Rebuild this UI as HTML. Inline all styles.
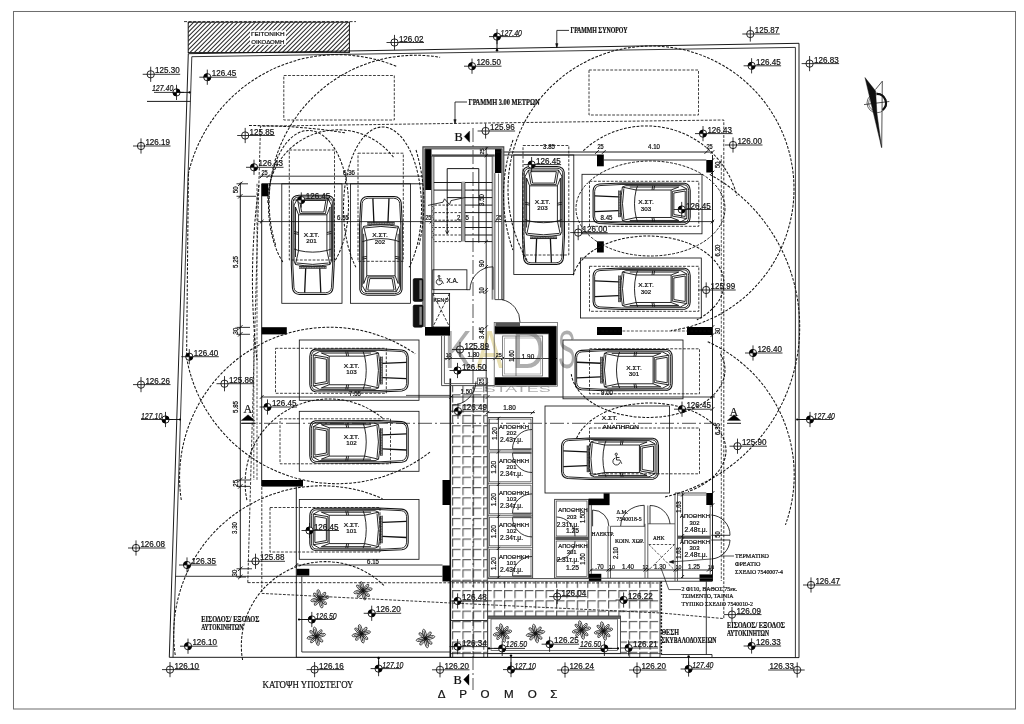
<!DOCTYPE html>
<html lang="el"><head><meta charset="utf-8"><title>ΚΑΤΟΨΗ ΥΠΟΣΤΕΓΟΥ</title>
<style>
html,body{margin:0;padding:0;background:#fff;}
svg{display:block;will-change:transform;}
text{font-family:"Liberation Sans",sans-serif;}
text.r{font-family:"Liberation Serif",serif;}
</style></head><body>
<svg width="1024" height="724" viewBox="0 0 1024 724">
<rect width="1024" height="724" fill="#fff"/>
<rect x="13.5" y="11.5" width="1002" height="697.5" fill="none" stroke="#6e6e6e" stroke-width="1.02"/>
<g opacity="0.8">
<text class="s" x="444.5" y="368.4" font-size="53" fill="#9a9a9a" textLength="27.5" lengthAdjust="spacingAndGlyphs">K</text>
<text class="s" x="476" y="368.4" font-size="53" fill="#d8c878" textLength="27" lengthAdjust="spacingAndGlyphs" opacity="0.7">A</text>
<text class="s" x="512" y="368.4" font-size="53" fill="#9a9a9a" textLength="33" lengthAdjust="spacingAndGlyphs">D</text>
<text class="s" x="548.6" y="368.4" font-size="53" fill="#9a9a9a" textLength="5.5" lengthAdjust="spacingAndGlyphs">I</text>
<text class="s" x="558" y="368.4" font-size="53" fill="#9a9a9a" textLength="17.5" lengthAdjust="spacingAndGlyphs">S</text>
<text class="s" x="471.8" y="392.2" font-size="8.6" fill="#9a9a9a" textLength="79" lengthAdjust="spacingAndGlyphs">ESTATES</text>
</g>
<defs><pattern id="hat" width="2" height="2" patternUnits="userSpaceOnUse" patternTransform="rotate(-45)"><line x1="0" y1="1" x2="2" y2="1" stroke="#1a1a1a" stroke-width="0.82"/></pattern><pattern id="tile" x="452" y="414.9" width="10.4" height="10.3" patternUnits="userSpaceOnUse"><path d="M0.6,8.2 V0.6 H8.6" stroke="#5a5a5a" stroke-width="1.15" fill="none"/></pattern></defs>
<clipPath id="hc"><rect x="188.2" y="22.2" width="161.2" height="30.4"/></clipPath>
<path clip-path="url(#hc)" d="M159,52.6 L189.4,22.2 M163.4,52.6 L193.8,22.2 M167.8,52.6 L198.2,22.2 M172.2,52.6 L202.6,22.2 M176.6,52.6 L207,22.2 M181,52.6 L211.4,22.2 M185.4,52.6 L215.8,22.2 M189.8,52.6 L220.2,22.2 M194.2,52.6 L224.6,22.2 M198.6,52.6 L229,22.2 M203,52.6 L233.4,22.2 M207.4,52.6 L237.8,22.2 M211.8,52.6 L242.2,22.2 M216.2,52.6 L246.6,22.2 M220.6,52.6 L251,22.2 M225,52.6 L255.4,22.2 M229.4,52.6 L259.8,22.2 M233.8,52.6 L264.2,22.2 M238.2,52.6 L268.6,22.2 M242.6,52.6 L273,22.2 M247,52.6 L277.4,22.2 M251.4,52.6 L281.8,22.2 M255.8,52.6 L286.2,22.2 M260.2,52.6 L290.6,22.2 M264.6,52.6 L295,22.2 M269,52.6 L299.4,22.2 M273.4,52.6 L303.8,22.2 M277.8,52.6 L308.2,22.2 M282.2,52.6 L312.6,22.2 M286.6,52.6 L317,22.2 M291,52.6 L321.4,22.2 M295.4,52.6 L325.8,22.2 M299.8,52.6 L330.2,22.2 M304.2,52.6 L334.6,22.2 M308.6,52.6 L339,22.2 M313,52.6 L343.4,22.2 M317.4,52.6 L347.8,22.2 M321.8,52.6 L352.2,22.2 M326.2,52.6 L356.6,22.2 M330.6,52.6 L361,22.2 M335,52.6 L365.4,22.2 M339.4,52.6 L369.8,22.2 M343.8,52.6 L374.2,22.2 M348.2,52.6 L378.6,22.2" stroke="#2a2a2a" stroke-width="1.05" fill="none"/>
<rect x="188.2" y="22.2" width="161.2" height="30.4" fill="none" stroke="#111" stroke-width="0.96"/>
<line x1="184" y1="21.6" x2="356" y2="21.6" stroke="#111" stroke-width="0.84" stroke-dasharray="3 1.6"/>
<rect x="250" y="30.4" width="36" height="14.4" fill="#fff"/>
<text class="s" x="267.8" y="36.1" font-size="5.9" fill="#111" stroke="#111" stroke-width="0.22" text-anchor="middle" textLength="33.4" lengthAdjust="spacingAndGlyphs">ΓΕΙΤΟΝΙΚΗ</text>
<text class="s" x="267.8" y="43.5" font-size="5.9" fill="#111" stroke="#111" stroke-width="0.22" text-anchor="middle" textLength="33" lengthAdjust="spacingAndGlyphs">ΟΙΚΟΔΟΜΗ</text>
<polygon points="188.3,53.7 799,43.3 799,657.6 169.3,657.3" fill="none" stroke="#111" stroke-width="0.96"/>
<polyline points="191.8,56.7 795.4,47.4 795.4,657.4" fill="none" stroke="#111" stroke-width="0.84"/>
<line x1="191.8" y1="56.7" x2="173" y2="657.3" stroke="#111" stroke-width="0.84"/>
<circle cx="876.8" cy="103" r="9.8" fill="none" stroke="#333" stroke-width="0.72"/>
<path d="M876.8,94.8 A8.2,8.2 0 0 0 876.8,111.2" fill="none" stroke="#444" stroke-width="0.72"/>
<path d="M876.6,93.9 A9.1,9.1 0 0 1 882.6,110" fill="none" stroke="#111" stroke-width="2.1"/>
<path d="M865,77.6 L875.6,91 L876.9,113 L881.6,147.6 Z" fill="#111" stroke="#111" stroke-width="0.48"/>
<path d="M875.4,89.6 L882.3,81.2 L881.7,147.5" fill="none" stroke="#111" stroke-width="0.72"/>
<line x1="864" y1="104.6" x2="889.3" y2="101.5" stroke="#111" stroke-width="0.72"/>
<rect x="451.3" y="385.6" width="35.9" height="271.4" fill="url(#tile)"/>
<rect x="487.6" y="581" width="136.4" height="35.5" fill="url(#tile)"/>
<rect x="620.5" y="581" width="39.5" height="76" fill="url(#tile)"/>
<line x1="450.3" y1="378.4" x2="450.3" y2="657.3" stroke="#111" stroke-width="1.6"/>
<line x1="487.6" y1="581" x2="487.6" y2="657" stroke="#111" stroke-width="0.84"/>
<line x1="451" y1="620.5" x2="487.6" y2="620.5" stroke="#111" stroke-width="0.84"/>
<line x1="660" y1="581" x2="660" y2="657" stroke="#111" stroke-width="0.84"/>
<rect x="281.8" y="183.8" width="60.2" height="119.5" fill="none" stroke="#111" stroke-width="0.84"/>
<rect x="350.5" y="183.8" width="60" height="119.5" fill="none" stroke="#111" stroke-width="0.84"/>
<rect x="513.8" y="155" width="60" height="119.5" fill="none" stroke="#111" stroke-width="0.84"/>
<rect x="582" y="174.3" width="120" height="59.5" fill="none" stroke="#111" stroke-width="0.84"/>
<rect x="580.5" y="258" width="120.8" height="60" fill="none" stroke="#111" stroke-width="0.84"/>
<rect x="563" y="340" width="120" height="58.8" fill="none" stroke="#111" stroke-width="0.84"/>
<rect x="299.3" y="340" width="119.7" height="60.3" fill="none" stroke="#111" stroke-width="0.84"/>
<rect x="299.3" y="411.3" width="119.7" height="60" fill="none" stroke="#111" stroke-width="0.84"/>
<rect x="299.3" y="499.5" width="119.7" height="59.8" fill="none" stroke="#111" stroke-width="0.84"/>
<rect x="545" y="406" width="124.5" height="87" fill="none" stroke="#111" stroke-width="0.84"/>
<rect x="289.3" y="150" width="45.2" height="110" fill="none" stroke="#333" stroke-width="0.94" stroke-dasharray="2.8 1.45"/>
<rect x="358" y="153.2" width="45.3" height="108.1" fill="none" stroke="#333" stroke-width="0.94" stroke-dasharray="2.8 1.45"/>
<rect x="523" y="145.5" width="45.8" height="109.5" fill="none" stroke="#333" stroke-width="0.94" stroke-dasharray="2.8 1.45"/>
<rect x="589.5" y="181.3" width="109.3" height="45" fill="none" stroke="#333" stroke-width="0.94" stroke-dasharray="2.8 1.45"/>
<rect x="589.5" y="266.3" width="109.3" height="45" fill="none" stroke="#333" stroke-width="0.94" stroke-dasharray="2.8 1.45"/>
<rect x="589.5" y="348.8" width="110" height="45" fill="none" stroke="#333" stroke-width="0.94" stroke-dasharray="2.8 1.45"/>
<rect x="275.5" y="348.3" width="110.8" height="45" fill="none" stroke="#333" stroke-width="0.94" stroke-dasharray="2.8 1.45"/>
<rect x="280" y="418.8" width="110.5" height="45" fill="none" stroke="#333" stroke-width="0.94" stroke-dasharray="2.8 1.45"/>
<rect x="270" y="507.5" width="110" height="44.5" fill="none" stroke="#333" stroke-width="0.94" stroke-dasharray="2.8 1.45"/>
<rect x="589.5" y="428" width="110" height="45.8" fill="none" stroke="#333" stroke-width="0.94" stroke-dasharray="2.8 1.45"/>
<rect x="283.8" y="75.5" width="110.5" height="44.5" fill="none" stroke="#333" stroke-width="0.94" stroke-dasharray="2.8 1.45"/>
<rect x="589" y="70" width="109.5" height="45" fill="none" stroke="#333" stroke-width="0.94" stroke-dasharray="2.8 1.45"/>
<g transform="matrix(0 1 1.02 0 290.8 195)" fill="none" stroke="#111" stroke-width="0.9" stroke-linejoin="round">
<path d="M6,0.8 L70,0.5 L93,1.6 Q99,2.2 99.4,8.5 L99.4,34.5 Q99,40.8 93,41.4 L70,42.5 L6,42.2 Q0.6,41.5 0.3,35 L0.3,8 Q0.6,1.5 6,0.8 Z" vector-effect="non-scaling-stroke" stroke-width="1.05"/>
<path d="M6.6,2.3 L70,2 L92.4,3.1 Q97.4,3.6 97.8,9 L97.8,34 Q97.4,39.4 92.4,39.9 L70,41 L6.6,40.7 Q2.2,40.1 1.9,35 L1.9,8 Q2.2,2.9 6.6,2.3 Z" vector-effect="non-scaling-stroke"/>
<path d="M3.8,6.5 L18.6,9 L18.6,34 L3.8,36.5 Z" vector-effect="non-scaling-stroke"/>
<path d="M5.4,8.6 L17,10.6 L17,32.4 L5.4,34.4 Z" vector-effect="non-scaling-stroke"/>
<path d="M19.8,7.6 L55.5,7.6 Q58.8,21.5 55.5,35.4 L19.8,35.4 Z" vector-effect="non-scaling-stroke"/>
<path d="M3.8,6.5 L10,3.2 L66,3.2 L69.5,4.6 L55.5,7.6 M19.8,7.6 L12,4.6 M12,4.6 L62,4.6 M36.5,3.2 L37.5,7.6 M38.5,3.2 L39.3,7.6 M54,3.2 L55.5,7.6" vector-effect="non-scaling-stroke"/>
<path d="M3.8,36.5 L10,39.8 L66,39.8 L69.5,38.4 L55.5,35.4 M19.8,35.4 L12,38.4 M12,38.4 L62,38.4 M36.5,39.8 L37.5,35.4 M38.5,39.8 L39.3,35.4 M54,39.8 L55.5,35.4" vector-effect="non-scaling-stroke"/>
<path d="M69.5,4.6 Q72.6,21.5 69.5,38.4 M68,6 Q70.8,21.5 68,37" vector-effect="non-scaling-stroke"/>
<path d="M71.6,8 L71.6,35 M73.2,8 L73.2,35" vector-effect="non-scaling-stroke"/>
<path d="M73.4,14.6 L97.6,13.6 M73.4,28.4 L97.6,29.4" vector-effect="non-scaling-stroke" stroke-width="1.3"/>
<path d="M71.6,9 L73.2,9 M71.6,10.6 L73.2,10.6 M71.6,12.2 L73.2,12.2 M71.6,13.8 L73.2,13.8 M71.6,15.4 L73.2,15.4 M71.6,17 L73.2,17 M71.6,18.6 L73.2,18.6 M71.6,20.2 L73.2,20.2 M71.6,21.8 L73.2,21.8 M71.6,23.4 L73.2,23.4 M71.6,25 L73.2,25 M71.6,26.6 L73.2,26.6 M71.6,28.2 L73.2,28.2 M71.6,29.8 L73.2,29.8 M71.6,31.4 L73.2,31.4 M71.6,33 L73.2,33 M71.6,34.6 L73.2,34.6" vector-effect="non-scaling-stroke" stroke-width="0.5"/>
</g>
<g transform="matrix(0 -0.9950 1.02 0 359 295.5)" fill="none" stroke="#111" stroke-width="0.9" stroke-linejoin="round">
<path d="M6,0.8 L70,0.5 L93,1.6 Q99,2.2 99.4,8.5 L99.4,34.5 Q99,40.8 93,41.4 L70,42.5 L6,42.2 Q0.6,41.5 0.3,35 L0.3,8 Q0.6,1.5 6,0.8 Z" vector-effect="non-scaling-stroke" stroke-width="1.05"/>
<path d="M6.6,2.3 L70,2 L92.4,3.1 Q97.4,3.6 97.8,9 L97.8,34 Q97.4,39.4 92.4,39.9 L70,41 L6.6,40.7 Q2.2,40.1 1.9,35 L1.9,8 Q2.2,2.9 6.6,2.3 Z" vector-effect="non-scaling-stroke"/>
<path d="M3.8,6.5 L18.6,9 L18.6,34 L3.8,36.5 Z" vector-effect="non-scaling-stroke"/>
<path d="M5.4,8.6 L17,10.6 L17,32.4 L5.4,34.4 Z" vector-effect="non-scaling-stroke"/>
<path d="M19.8,7.6 L55.5,7.6 Q58.8,21.5 55.5,35.4 L19.8,35.4 Z" vector-effect="non-scaling-stroke"/>
<path d="M3.8,6.5 L10,3.2 L66,3.2 L69.5,4.6 L55.5,7.6 M19.8,7.6 L12,4.6 M12,4.6 L62,4.6 M36.5,3.2 L37.5,7.6 M38.5,3.2 L39.3,7.6 M54,3.2 L55.5,7.6" vector-effect="non-scaling-stroke"/>
<path d="M3.8,36.5 L10,39.8 L66,39.8 L69.5,38.4 L55.5,35.4 M19.8,35.4 L12,38.4 M12,38.4 L62,38.4 M36.5,39.8 L37.5,35.4 M38.5,39.8 L39.3,35.4 M54,39.8 L55.5,35.4" vector-effect="non-scaling-stroke"/>
<path d="M69.5,4.6 Q72.6,21.5 69.5,38.4 M68,6 Q70.8,21.5 68,37" vector-effect="non-scaling-stroke"/>
<path d="M71.6,8 L71.6,35 M73.2,8 L73.2,35" vector-effect="non-scaling-stroke"/>
<path d="M73.4,14.6 L97.6,13.6 M73.4,28.4 L97.6,29.4" vector-effect="non-scaling-stroke" stroke-width="1.3"/>
<path d="M71.6,9 L73.2,9 M71.6,10.6 L73.2,10.6 M71.6,12.2 L73.2,12.2 M71.6,13.8 L73.2,13.8 M71.6,15.4 L73.2,15.4 M71.6,17 L73.2,17 M71.6,18.6 L73.2,18.6 M71.6,20.2 L73.2,20.2 M71.6,21.8 L73.2,21.8 M71.6,23.4 L73.2,23.4 M71.6,25 L73.2,25 M71.6,26.6 L73.2,26.6 M71.6,28.2 L73.2,28.2 M71.6,29.8 L73.2,29.8 M71.6,31.4 L73.2,31.4 M71.6,33 L73.2,33 M71.6,34.6 L73.2,34.6" vector-effect="non-scaling-stroke" stroke-width="0.5"/>
</g>
<g transform="matrix(0 0.9870 1 0 522 166.3)" fill="none" stroke="#111" stroke-width="0.9" stroke-linejoin="round">
<path d="M6,0.8 L70,0.5 L93,1.6 Q99,2.2 99.4,8.5 L99.4,34.5 Q99,40.8 93,41.4 L70,42.5 L6,42.2 Q0.6,41.5 0.3,35 L0.3,8 Q0.6,1.5 6,0.8 Z" vector-effect="non-scaling-stroke" stroke-width="1.05"/>
<path d="M6.6,2.3 L70,2 L92.4,3.1 Q97.4,3.6 97.8,9 L97.8,34 Q97.4,39.4 92.4,39.9 L70,41 L6.6,40.7 Q2.2,40.1 1.9,35 L1.9,8 Q2.2,2.9 6.6,2.3 Z" vector-effect="non-scaling-stroke"/>
<path d="M3.8,6.5 L18.6,9 L18.6,34 L3.8,36.5 Z" vector-effect="non-scaling-stroke"/>
<path d="M5.4,8.6 L17,10.6 L17,32.4 L5.4,34.4 Z" vector-effect="non-scaling-stroke"/>
<path d="M19.8,7.6 L55.5,7.6 Q58.8,21.5 55.5,35.4 L19.8,35.4 Z" vector-effect="non-scaling-stroke"/>
<path d="M3.8,6.5 L10,3.2 L66,3.2 L69.5,4.6 L55.5,7.6 M19.8,7.6 L12,4.6 M12,4.6 L62,4.6 M36.5,3.2 L37.5,7.6 M38.5,3.2 L39.3,7.6 M54,3.2 L55.5,7.6" vector-effect="non-scaling-stroke"/>
<path d="M3.8,36.5 L10,39.8 L66,39.8 L69.5,38.4 L55.5,35.4 M19.8,35.4 L12,38.4 M12,38.4 L62,38.4 M36.5,39.8 L37.5,35.4 M38.5,39.8 L39.3,35.4 M54,39.8 L55.5,35.4" vector-effect="non-scaling-stroke"/>
<path d="M69.5,4.6 Q72.6,21.5 69.5,38.4 M68,6 Q70.8,21.5 68,37" vector-effect="non-scaling-stroke"/>
<path d="M71.6,8 L71.6,35 M73.2,8 L73.2,35" vector-effect="non-scaling-stroke"/>
<path d="M73.4,14.6 L97.6,13.6 M73.4,28.4 L97.6,29.4" vector-effect="non-scaling-stroke" stroke-width="1.3"/>
<path d="M71.6,9 L73.2,9 M71.6,10.6 L73.2,10.6 M71.6,12.2 L73.2,12.2 M71.6,13.8 L73.2,13.8 M71.6,15.4 L73.2,15.4 M71.6,17 L73.2,17 M71.6,18.6 L73.2,18.6 M71.6,20.2 L73.2,20.2 M71.6,21.8 L73.2,21.8 M71.6,23.4 L73.2,23.4 M71.6,25 L73.2,25 M71.6,26.6 L73.2,26.6 M71.6,28.2 L73.2,28.2 M71.6,29.8 L73.2,29.8 M71.6,31.4 L73.2,31.4 M71.6,33 L73.2,33 M71.6,34.6 L73.2,34.6" vector-effect="non-scaling-stroke" stroke-width="0.5"/>
</g>
<g transform="matrix(-0.9800 0 0 0.9884 690.5 182.5)" fill="none" stroke="#111" stroke-width="0.9" stroke-linejoin="round">
<path d="M6,0.8 L70,0.5 L93,1.6 Q99,2.2 99.4,8.5 L99.4,34.5 Q99,40.8 93,41.4 L70,42.5 L6,42.2 Q0.6,41.5 0.3,35 L0.3,8 Q0.6,1.5 6,0.8 Z" vector-effect="non-scaling-stroke" stroke-width="1.05"/>
<path d="M6.6,2.3 L70,2 L92.4,3.1 Q97.4,3.6 97.8,9 L97.8,34 Q97.4,39.4 92.4,39.9 L70,41 L6.6,40.7 Q2.2,40.1 1.9,35 L1.9,8 Q2.2,2.9 6.6,2.3 Z" vector-effect="non-scaling-stroke"/>
<path d="M3.8,6.5 L18.6,9 L18.6,34 L3.8,36.5 Z" vector-effect="non-scaling-stroke"/>
<path d="M5.4,8.6 L17,10.6 L17,32.4 L5.4,34.4 Z" vector-effect="non-scaling-stroke"/>
<path d="M19.8,7.6 L55.5,7.6 Q58.8,21.5 55.5,35.4 L19.8,35.4 Z" vector-effect="non-scaling-stroke"/>
<path d="M3.8,6.5 L10,3.2 L66,3.2 L69.5,4.6 L55.5,7.6 M19.8,7.6 L12,4.6 M12,4.6 L62,4.6 M36.5,3.2 L37.5,7.6 M38.5,3.2 L39.3,7.6 M54,3.2 L55.5,7.6" vector-effect="non-scaling-stroke"/>
<path d="M3.8,36.5 L10,39.8 L66,39.8 L69.5,38.4 L55.5,35.4 M19.8,35.4 L12,38.4 M12,38.4 L62,38.4 M36.5,39.8 L37.5,35.4 M38.5,39.8 L39.3,35.4 M54,39.8 L55.5,35.4" vector-effect="non-scaling-stroke"/>
<path d="M69.5,4.6 Q72.6,21.5 69.5,38.4 M68,6 Q70.8,21.5 68,37" vector-effect="non-scaling-stroke"/>
<path d="M71.6,8 L71.6,35 M73.2,8 L73.2,35" vector-effect="non-scaling-stroke"/>
<path d="M73.4,14.6 L97.6,13.6 M73.4,28.4 L97.6,29.4" vector-effect="non-scaling-stroke" stroke-width="1.3"/>
<path d="M71.6,9 L73.2,9 M71.6,10.6 L73.2,10.6 M71.6,12.2 L73.2,12.2 M71.6,13.8 L73.2,13.8 M71.6,15.4 L73.2,15.4 M71.6,17 L73.2,17 M71.6,18.6 L73.2,18.6 M71.6,20.2 L73.2,20.2 M71.6,21.8 L73.2,21.8 M71.6,23.4 L73.2,23.4 M71.6,25 L73.2,25 M71.6,26.6 L73.2,26.6 M71.6,28.2 L73.2,28.2 M71.6,29.8 L73.2,29.8 M71.6,31.4 L73.2,31.4 M71.6,33 L73.2,33 M71.6,34.6 L73.2,34.6" vector-effect="non-scaling-stroke" stroke-width="0.5"/>
</g>
<g transform="matrix(-0.9800 0 0 0.9884 690.5 267.5)" fill="none" stroke="#111" stroke-width="0.9" stroke-linejoin="round">
<path d="M6,0.8 L70,0.5 L93,1.6 Q99,2.2 99.4,8.5 L99.4,34.5 Q99,40.8 93,41.4 L70,42.5 L6,42.2 Q0.6,41.5 0.3,35 L0.3,8 Q0.6,1.5 6,0.8 Z" vector-effect="non-scaling-stroke" stroke-width="1.05"/>
<path d="M6.6,2.3 L70,2 L92.4,3.1 Q97.4,3.6 97.8,9 L97.8,34 Q97.4,39.4 92.4,39.9 L70,41 L6.6,40.7 Q2.2,40.1 1.9,35 L1.9,8 Q2.2,2.9 6.6,2.3 Z" vector-effect="non-scaling-stroke"/>
<path d="M3.8,6.5 L18.6,9 L18.6,34 L3.8,36.5 Z" vector-effect="non-scaling-stroke"/>
<path d="M5.4,8.6 L17,10.6 L17,32.4 L5.4,34.4 Z" vector-effect="non-scaling-stroke"/>
<path d="M19.8,7.6 L55.5,7.6 Q58.8,21.5 55.5,35.4 L19.8,35.4 Z" vector-effect="non-scaling-stroke"/>
<path d="M3.8,6.5 L10,3.2 L66,3.2 L69.5,4.6 L55.5,7.6 M19.8,7.6 L12,4.6 M12,4.6 L62,4.6 M36.5,3.2 L37.5,7.6 M38.5,3.2 L39.3,7.6 M54,3.2 L55.5,7.6" vector-effect="non-scaling-stroke"/>
<path d="M3.8,36.5 L10,39.8 L66,39.8 L69.5,38.4 L55.5,35.4 M19.8,35.4 L12,38.4 M12,38.4 L62,38.4 M36.5,39.8 L37.5,35.4 M38.5,39.8 L39.3,35.4 M54,39.8 L55.5,35.4" vector-effect="non-scaling-stroke"/>
<path d="M69.5,4.6 Q72.6,21.5 69.5,38.4 M68,6 Q70.8,21.5 68,37" vector-effect="non-scaling-stroke"/>
<path d="M71.6,8 L71.6,35 M73.2,8 L73.2,35" vector-effect="non-scaling-stroke"/>
<path d="M73.4,14.6 L97.6,13.6 M73.4,28.4 L97.6,29.4" vector-effect="non-scaling-stroke" stroke-width="1.3"/>
<path d="M71.6,9 L73.2,9 M71.6,10.6 L73.2,10.6 M71.6,12.2 L73.2,12.2 M71.6,13.8 L73.2,13.8 M71.6,15.4 L73.2,15.4 M71.6,17 L73.2,17 M71.6,18.6 L73.2,18.6 M71.6,20.2 L73.2,20.2 M71.6,21.8 L73.2,21.8 M71.6,23.4 L73.2,23.4 M71.6,25 L73.2,25 M71.6,26.6 L73.2,26.6 M71.6,28.2 L73.2,28.2 M71.6,29.8 L73.2,29.8 M71.6,31.4 L73.2,31.4 M71.6,33 L73.2,33 M71.6,34.6 L73.2,34.6" vector-effect="non-scaling-stroke" stroke-width="0.5"/>
</g>
<g transform="matrix(-0.9800 0 0 0.9884 672.5 348.8)" fill="none" stroke="#111" stroke-width="0.9" stroke-linejoin="round">
<path d="M6,0.8 L70,0.5 L93,1.6 Q99,2.2 99.4,8.5 L99.4,34.5 Q99,40.8 93,41.4 L70,42.5 L6,42.2 Q0.6,41.5 0.3,35 L0.3,8 Q0.6,1.5 6,0.8 Z" vector-effect="non-scaling-stroke" stroke-width="1.05"/>
<path d="M6.6,2.3 L70,2 L92.4,3.1 Q97.4,3.6 97.8,9 L97.8,34 Q97.4,39.4 92.4,39.9 L70,41 L6.6,40.7 Q2.2,40.1 1.9,35 L1.9,8 Q2.2,2.9 6.6,2.3 Z" vector-effect="non-scaling-stroke"/>
<path d="M3.8,6.5 L18.6,9 L18.6,34 L3.8,36.5 Z" vector-effect="non-scaling-stroke"/>
<path d="M5.4,8.6 L17,10.6 L17,32.4 L5.4,34.4 Z" vector-effect="non-scaling-stroke"/>
<path d="M19.8,7.6 L55.5,7.6 Q58.8,21.5 55.5,35.4 L19.8,35.4 Z" vector-effect="non-scaling-stroke"/>
<path d="M3.8,6.5 L10,3.2 L66,3.2 L69.5,4.6 L55.5,7.6 M19.8,7.6 L12,4.6 M12,4.6 L62,4.6 M36.5,3.2 L37.5,7.6 M38.5,3.2 L39.3,7.6 M54,3.2 L55.5,7.6" vector-effect="non-scaling-stroke"/>
<path d="M3.8,36.5 L10,39.8 L66,39.8 L69.5,38.4 L55.5,35.4 M19.8,35.4 L12,38.4 M12,38.4 L62,38.4 M36.5,39.8 L37.5,35.4 M38.5,39.8 L39.3,35.4 M54,39.8 L55.5,35.4" vector-effect="non-scaling-stroke"/>
<path d="M69.5,4.6 Q72.6,21.5 69.5,38.4 M68,6 Q70.8,21.5 68,37" vector-effect="non-scaling-stroke"/>
<path d="M71.6,8 L71.6,35 M73.2,8 L73.2,35" vector-effect="non-scaling-stroke"/>
<path d="M73.4,14.6 L97.6,13.6 M73.4,28.4 L97.6,29.4" vector-effect="non-scaling-stroke" stroke-width="1.3"/>
<path d="M71.6,9 L73.2,9 M71.6,10.6 L73.2,10.6 M71.6,12.2 L73.2,12.2 M71.6,13.8 L73.2,13.8 M71.6,15.4 L73.2,15.4 M71.6,17 L73.2,17 M71.6,18.6 L73.2,18.6 M71.6,20.2 L73.2,20.2 M71.6,21.8 L73.2,21.8 M71.6,23.4 L73.2,23.4 M71.6,25 L73.2,25 M71.6,26.6 L73.2,26.6 M71.6,28.2 L73.2,28.2 M71.6,29.8 L73.2,29.8 M71.6,31.4 L73.2,31.4 M71.6,33 L73.2,33 M71.6,34.6 L73.2,34.6" vector-effect="non-scaling-stroke" stroke-width="0.5"/>
</g>
<g transform="matrix(0.9930 0 0 1.03 309.5 348.3)" fill="none" stroke="#111" stroke-width="0.9" stroke-linejoin="round">
<path d="M6,0.8 L70,0.5 L93,1.6 Q99,2.2 99.4,8.5 L99.4,34.5 Q99,40.8 93,41.4 L70,42.5 L6,42.2 Q0.6,41.5 0.3,35 L0.3,8 Q0.6,1.5 6,0.8 Z" vector-effect="non-scaling-stroke" stroke-width="1.05"/>
<path d="M6.6,2.3 L70,2 L92.4,3.1 Q97.4,3.6 97.8,9 L97.8,34 Q97.4,39.4 92.4,39.9 L70,41 L6.6,40.7 Q2.2,40.1 1.9,35 L1.9,8 Q2.2,2.9 6.6,2.3 Z" vector-effect="non-scaling-stroke"/>
<path d="M3.8,6.5 L18.6,9 L18.6,34 L3.8,36.5 Z" vector-effect="non-scaling-stroke"/>
<path d="M5.4,8.6 L17,10.6 L17,32.4 L5.4,34.4 Z" vector-effect="non-scaling-stroke"/>
<path d="M19.8,7.6 L55.5,7.6 Q58.8,21.5 55.5,35.4 L19.8,35.4 Z" vector-effect="non-scaling-stroke"/>
<path d="M3.8,6.5 L10,3.2 L66,3.2 L69.5,4.6 L55.5,7.6 M19.8,7.6 L12,4.6 M12,4.6 L62,4.6 M36.5,3.2 L37.5,7.6 M38.5,3.2 L39.3,7.6 M54,3.2 L55.5,7.6" vector-effect="non-scaling-stroke"/>
<path d="M3.8,36.5 L10,39.8 L66,39.8 L69.5,38.4 L55.5,35.4 M19.8,35.4 L12,38.4 M12,38.4 L62,38.4 M36.5,39.8 L37.5,35.4 M38.5,39.8 L39.3,35.4 M54,39.8 L55.5,35.4" vector-effect="non-scaling-stroke"/>
<path d="M69.5,4.6 Q72.6,21.5 69.5,38.4 M68,6 Q70.8,21.5 68,37" vector-effect="non-scaling-stroke"/>
<path d="M71.6,8 L71.6,35 M73.2,8 L73.2,35" vector-effect="non-scaling-stroke"/>
<path d="M73.4,14.6 L97.6,13.6 M73.4,28.4 L97.6,29.4" vector-effect="non-scaling-stroke" stroke-width="1.3"/>
<path d="M71.6,9 L73.2,9 M71.6,10.6 L73.2,10.6 M71.6,12.2 L73.2,12.2 M71.6,13.8 L73.2,13.8 M71.6,15.4 L73.2,15.4 M71.6,17 L73.2,17 M71.6,18.6 L73.2,18.6 M71.6,20.2 L73.2,20.2 M71.6,21.8 L73.2,21.8 M71.6,23.4 L73.2,23.4 M71.6,25 L73.2,25 M71.6,26.6 L73.2,26.6 M71.6,28.2 L73.2,28.2 M71.6,29.8 L73.2,29.8 M71.6,31.4 L73.2,31.4 M71.6,33 L73.2,33 M71.6,34.6 L73.2,34.6" vector-effect="non-scaling-stroke" stroke-width="0.5"/>
</g>
<g transform="matrix(0.9930 0 0 1.02 309.5 420)" fill="none" stroke="#111" stroke-width="0.9" stroke-linejoin="round">
<path d="M6,0.8 L70,0.5 L93,1.6 Q99,2.2 99.4,8.5 L99.4,34.5 Q99,40.8 93,41.4 L70,42.5 L6,42.2 Q0.6,41.5 0.3,35 L0.3,8 Q0.6,1.5 6,0.8 Z" vector-effect="non-scaling-stroke" stroke-width="1.05"/>
<path d="M6.6,2.3 L70,2 L92.4,3.1 Q97.4,3.6 97.8,9 L97.8,34 Q97.4,39.4 92.4,39.9 L70,41 L6.6,40.7 Q2.2,40.1 1.9,35 L1.9,8 Q2.2,2.9 6.6,2.3 Z" vector-effect="non-scaling-stroke"/>
<path d="M3.8,6.5 L18.6,9 L18.6,34 L3.8,36.5 Z" vector-effect="non-scaling-stroke"/>
<path d="M5.4,8.6 L17,10.6 L17,32.4 L5.4,34.4 Z" vector-effect="non-scaling-stroke"/>
<path d="M19.8,7.6 L55.5,7.6 Q58.8,21.5 55.5,35.4 L19.8,35.4 Z" vector-effect="non-scaling-stroke"/>
<path d="M3.8,6.5 L10,3.2 L66,3.2 L69.5,4.6 L55.5,7.6 M19.8,7.6 L12,4.6 M12,4.6 L62,4.6 M36.5,3.2 L37.5,7.6 M38.5,3.2 L39.3,7.6 M54,3.2 L55.5,7.6" vector-effect="non-scaling-stroke"/>
<path d="M3.8,36.5 L10,39.8 L66,39.8 L69.5,38.4 L55.5,35.4 M19.8,35.4 L12,38.4 M12,38.4 L62,38.4 M36.5,39.8 L37.5,35.4 M38.5,39.8 L39.3,35.4 M54,39.8 L55.5,35.4" vector-effect="non-scaling-stroke"/>
<path d="M69.5,4.6 Q72.6,21.5 69.5,38.4 M68,6 Q70.8,21.5 68,37" vector-effect="non-scaling-stroke"/>
<path d="M71.6,8 L71.6,35 M73.2,8 L73.2,35" vector-effect="non-scaling-stroke"/>
<path d="M73.4,14.6 L97.6,13.6 M73.4,28.4 L97.6,29.4" vector-effect="non-scaling-stroke" stroke-width="1.3"/>
<path d="M71.6,9 L73.2,9 M71.6,10.6 L73.2,10.6 M71.6,12.2 L73.2,12.2 M71.6,13.8 L73.2,13.8 M71.6,15.4 L73.2,15.4 M71.6,17 L73.2,17 M71.6,18.6 L73.2,18.6 M71.6,20.2 L73.2,20.2 M71.6,21.8 L73.2,21.8 M71.6,23.4 L73.2,23.4 M71.6,25 L73.2,25 M71.6,26.6 L73.2,26.6 M71.6,28.2 L73.2,28.2 M71.6,29.8 L73.2,29.8 M71.6,31.4 L73.2,31.4 M71.6,33 L73.2,33 M71.6,34.6 L73.2,34.6" vector-effect="non-scaling-stroke" stroke-width="0.5"/>
</g>
<g transform="matrix(0.9930 0 0 1.02 309.5 507.5)" fill="none" stroke="#111" stroke-width="0.9" stroke-linejoin="round">
<path d="M6,0.8 L70,0.5 L93,1.6 Q99,2.2 99.4,8.5 L99.4,34.5 Q99,40.8 93,41.4 L70,42.5 L6,42.2 Q0.6,41.5 0.3,35 L0.3,8 Q0.6,1.5 6,0.8 Z" vector-effect="non-scaling-stroke" stroke-width="1.05"/>
<path d="M6.6,2.3 L70,2 L92.4,3.1 Q97.4,3.6 97.8,9 L97.8,34 Q97.4,39.4 92.4,39.9 L70,41 L6.6,40.7 Q2.2,40.1 1.9,35 L1.9,8 Q2.2,2.9 6.6,2.3 Z" vector-effect="non-scaling-stroke"/>
<path d="M3.8,6.5 L18.6,9 L18.6,34 L3.8,36.5 Z" vector-effect="non-scaling-stroke"/>
<path d="M5.4,8.6 L17,10.6 L17,32.4 L5.4,34.4 Z" vector-effect="non-scaling-stroke"/>
<path d="M19.8,7.6 L55.5,7.6 Q58.8,21.5 55.5,35.4 L19.8,35.4 Z" vector-effect="non-scaling-stroke"/>
<path d="M3.8,6.5 L10,3.2 L66,3.2 L69.5,4.6 L55.5,7.6 M19.8,7.6 L12,4.6 M12,4.6 L62,4.6 M36.5,3.2 L37.5,7.6 M38.5,3.2 L39.3,7.6 M54,3.2 L55.5,7.6" vector-effect="non-scaling-stroke"/>
<path d="M3.8,36.5 L10,39.8 L66,39.8 L69.5,38.4 L55.5,35.4 M19.8,35.4 L12,38.4 M12,38.4 L62,38.4 M36.5,39.8 L37.5,35.4 M38.5,39.8 L39.3,35.4 M54,39.8 L55.5,35.4" vector-effect="non-scaling-stroke"/>
<path d="M69.5,4.6 Q72.6,21.5 69.5,38.4 M68,6 Q70.8,21.5 68,37" vector-effect="non-scaling-stroke"/>
<path d="M71.6,8 L71.6,35 M73.2,8 L73.2,35" vector-effect="non-scaling-stroke"/>
<path d="M73.4,14.6 L97.6,13.6 M73.4,28.4 L97.6,29.4" vector-effect="non-scaling-stroke" stroke-width="1.3"/>
<path d="M71.6,9 L73.2,9 M71.6,10.6 L73.2,10.6 M71.6,12.2 L73.2,12.2 M71.6,13.8 L73.2,13.8 M71.6,15.4 L73.2,15.4 M71.6,17 L73.2,17 M71.6,18.6 L73.2,18.6 M71.6,20.2 L73.2,20.2 M71.6,21.8 L73.2,21.8 M71.6,23.4 L73.2,23.4 M71.6,25 L73.2,25 M71.6,26.6 L73.2,26.6 M71.6,28.2 L73.2,28.2 M71.6,29.8 L73.2,29.8 M71.6,31.4 L73.2,31.4 M71.6,33 L73.2,33 M71.6,34.6 L73.2,34.6" vector-effect="non-scaling-stroke" stroke-width="0.5"/>
</g>
<g transform="matrix(-0.9780 0 0 0.9884 658.8 437.5)" fill="none" stroke="#111" stroke-width="0.9" stroke-linejoin="round">
<path d="M6,0.8 L70,0.5 L93,1.6 Q99,2.2 99.4,8.5 L99.4,34.5 Q99,40.8 93,41.4 L70,42.5 L6,42.2 Q0.6,41.5 0.3,35 L0.3,8 Q0.6,1.5 6,0.8 Z" vector-effect="non-scaling-stroke" stroke-width="1.05"/>
<path d="M6.6,2.3 L70,2 L92.4,3.1 Q97.4,3.6 97.8,9 L97.8,34 Q97.4,39.4 92.4,39.9 L70,41 L6.6,40.7 Q2.2,40.1 1.9,35 L1.9,8 Q2.2,2.9 6.6,2.3 Z" vector-effect="non-scaling-stroke"/>
<path d="M3.8,6.5 L18.6,9 L18.6,34 L3.8,36.5 Z" vector-effect="non-scaling-stroke"/>
<path d="M5.4,8.6 L17,10.6 L17,32.4 L5.4,34.4 Z" vector-effect="non-scaling-stroke"/>
<path d="M19.8,7.6 L55.5,7.6 Q58.8,21.5 55.5,35.4 L19.8,35.4 Z" vector-effect="non-scaling-stroke"/>
<path d="M3.8,6.5 L10,3.2 L66,3.2 L69.5,4.6 L55.5,7.6 M19.8,7.6 L12,4.6 M12,4.6 L62,4.6 M36.5,3.2 L37.5,7.6 M38.5,3.2 L39.3,7.6 M54,3.2 L55.5,7.6" vector-effect="non-scaling-stroke"/>
<path d="M3.8,36.5 L10,39.8 L66,39.8 L69.5,38.4 L55.5,35.4 M19.8,35.4 L12,38.4 M12,38.4 L62,38.4 M36.5,39.8 L37.5,35.4 M38.5,39.8 L39.3,35.4 M54,39.8 L55.5,35.4" vector-effect="non-scaling-stroke"/>
<path d="M69.5,4.6 Q72.6,21.5 69.5,38.4 M68,6 Q70.8,21.5 68,37" vector-effect="non-scaling-stroke"/>
<path d="M71.6,8 L71.6,35 M73.2,8 L73.2,35" vector-effect="non-scaling-stroke"/>
<path d="M73.4,14.6 L97.6,13.6 M73.4,28.4 L97.6,29.4" vector-effect="non-scaling-stroke" stroke-width="1.3"/>
<path d="M71.6,9 L73.2,9 M71.6,10.6 L73.2,10.6 M71.6,12.2 L73.2,12.2 M71.6,13.8 L73.2,13.8 M71.6,15.4 L73.2,15.4 M71.6,17 L73.2,17 M71.6,18.6 L73.2,18.6 M71.6,20.2 L73.2,20.2 M71.6,21.8 L73.2,21.8 M71.6,23.4 L73.2,23.4 M71.6,25 L73.2,25 M71.6,26.6 L73.2,26.6 M71.6,28.2 L73.2,28.2 M71.6,29.8 L73.2,29.8 M71.6,31.4 L73.2,31.4 M71.6,33 L73.2,33 M71.6,34.6 L73.2,34.6" vector-effect="non-scaling-stroke" stroke-width="0.5"/>
</g>
<text class="s" x="311.5" y="236.5" font-size="6.2" fill="#111" stroke="#111" stroke-width="0.22" text-anchor="middle" textLength="15.5" lengthAdjust="spacingAndGlyphs">Χ.ΣΤ.</text>
<text class="s" x="311.5" y="243.4" font-size="6.2" fill="#111" stroke="#111" stroke-width="0.22" text-anchor="middle">201</text>
<text class="s" x="380" y="237" font-size="6.2" fill="#111" stroke="#111" stroke-width="0.22" text-anchor="middle" textLength="15.5" lengthAdjust="spacingAndGlyphs">Χ.ΣΤ.</text>
<text class="s" x="380" y="243.9" font-size="6.2" fill="#111" stroke="#111" stroke-width="0.22" text-anchor="middle">202</text>
<text class="s" x="542.5" y="203.5" font-size="6.2" fill="#111" stroke="#111" stroke-width="0.22" text-anchor="middle" textLength="15.5" lengthAdjust="spacingAndGlyphs">Χ.ΣΤ.</text>
<text class="s" x="542.5" y="210.4" font-size="6.2" fill="#111" stroke="#111" stroke-width="0.22" text-anchor="middle">203</text>
<text class="s" x="646" y="204" font-size="6.2" fill="#111" stroke="#111" stroke-width="0.22" text-anchor="middle" textLength="15.5" lengthAdjust="spacingAndGlyphs">Χ.ΣΤ.</text>
<text class="s" x="646" y="210.9" font-size="6.2" fill="#111" stroke="#111" stroke-width="0.22" text-anchor="middle">303</text>
<text class="s" x="646" y="287" font-size="6.2" fill="#111" stroke="#111" stroke-width="0.22" text-anchor="middle" textLength="15.5" lengthAdjust="spacingAndGlyphs">Χ.ΣΤ.</text>
<text class="s" x="646" y="293.9" font-size="6.2" fill="#111" stroke="#111" stroke-width="0.22" text-anchor="middle">302</text>
<text class="s" x="634" y="369.5" font-size="6.2" fill="#111" stroke="#111" stroke-width="0.22" text-anchor="middle" textLength="15.5" lengthAdjust="spacingAndGlyphs">Χ.ΣΤ.</text>
<text class="s" x="634" y="376.4" font-size="6.2" fill="#111" stroke="#111" stroke-width="0.22" text-anchor="middle">301</text>
<text class="s" x="351.5" y="367.5" font-size="6.2" fill="#111" stroke="#111" stroke-width="0.22" text-anchor="middle" textLength="15.5" lengthAdjust="spacingAndGlyphs">Χ.ΣΤ.</text>
<text class="s" x="351.5" y="374.4" font-size="6.2" fill="#111" stroke="#111" stroke-width="0.22" text-anchor="middle">103</text>
<text class="s" x="351.5" y="438.5" font-size="6.2" fill="#111" stroke="#111" stroke-width="0.22" text-anchor="middle" textLength="15.5" lengthAdjust="spacingAndGlyphs">Χ.ΣΤ.</text>
<text class="s" x="351.5" y="445.4" font-size="6.2" fill="#111" stroke="#111" stroke-width="0.22" text-anchor="middle">102</text>
<text class="s" x="351.5" y="526.5" font-size="6.2" fill="#111" stroke="#111" stroke-width="0.22" text-anchor="middle" textLength="15.5" lengthAdjust="spacingAndGlyphs">Χ.ΣΤ.</text>
<text class="s" x="351.5" y="533.4" font-size="6.2" fill="#111" stroke="#111" stroke-width="0.22" text-anchor="middle">101</text>
<text class="s" x="609.6" y="420.2" font-size="6.2" fill="#111" stroke="#111" stroke-width="0.22" text-anchor="middle" textLength="15.5" lengthAdjust="spacingAndGlyphs">Χ.ΣΤ.</text>
<text class="s" x="620.8" y="428.8" font-size="6.2" fill="#111" stroke="#111" stroke-width="0.22" text-anchor="middle" textLength="36.5" lengthAdjust="spacingAndGlyphs">ΑΝΑΠΗΡΩΝ</text>
<rect x="261.8" y="183.8" width="6.5" height="12.5" fill="#000"/>
<rect x="261.6" y="327.2" width="25.2" height="7.2" fill="#000"/>
<rect x="261.6" y="480" width="41.4" height="6.6" fill="#000"/>
<rect x="296.8" y="568.8" width="12.5" height="6.8" fill="#000"/>
<rect x="425" y="148.8" width="6.5" height="41.2" fill="#000"/>
<rect x="495" y="148.8" width="6.5" height="24.2" fill="#000"/>
<rect x="597" y="154.5" width="6.8" height="11.8" fill="#000"/>
<rect x="706.3" y="160" width="6.2" height="12.5" fill="#000"/>
<rect x="597" y="241.3" width="6.8" height="11.2" fill="#000"/>
<rect x="597" y="327" width="25" height="8" fill="#000"/>
<rect x="687" y="327" width="25" height="8" fill="#000"/>
<rect x="425" y="327" width="25" height="8.6" fill="#000"/>
<rect x="442.5" y="480" width="7.5" height="25" fill="#000"/>
<rect x="442.5" y="565.5" width="7.5" height="16" fill="#000"/>
<line x1="261.7" y1="183.8" x2="423" y2="183.8" stroke="#111" stroke-width="0.96"/>
<line x1="261.7" y1="183.8" x2="261.7" y2="486" stroke="#111" stroke-width="0.96"/>
<line x1="259.4" y1="176.2" x2="423" y2="176.2" stroke="#111" stroke-width="0.84"/>
<line x1="258" y1="221.6" x2="714" y2="221.6" stroke="#111" stroke-width="0.84"/>
<line x1="240.3" y1="182.5" x2="240.3" y2="577.5" stroke="#111" stroke-width="0.96"/>
<line x1="236.5" y1="183.8" x2="248" y2="183.8" stroke="#111" stroke-width="0.84"/>
<line x1="236.5" y1="196.3" x2="256" y2="196.3" stroke="#111" stroke-width="0.84"/>
<line x1="236.5" y1="327.4" x2="250" y2="327.4" stroke="#111" stroke-width="0.84"/>
<line x1="236.5" y1="334.3" x2="250" y2="334.3" stroke="#111" stroke-width="0.84"/>
<line x1="236.5" y1="480" x2="250" y2="480" stroke="#111" stroke-width="0.84"/>
<line x1="236.5" y1="486.4" x2="250" y2="486.4" stroke="#111" stroke-width="0.84"/>
<line x1="236.5" y1="568.8" x2="252" y2="568.8" stroke="#111" stroke-width="0.84"/>
<line x1="236.5" y1="577" x2="246" y2="577" stroke="#111" stroke-width="0.84"/>
<line x1="238.1" y1="186" x2="242.5" y2="181.6" stroke="#111" stroke-width="0.96"/>
<line x1="238.1" y1="198.5" x2="242.5" y2="194.1" stroke="#111" stroke-width="0.96"/>
<line x1="238.1" y1="329.6" x2="242.5" y2="325.2" stroke="#111" stroke-width="0.96"/>
<line x1="238.1" y1="336.5" x2="242.5" y2="332.1" stroke="#111" stroke-width="0.96"/>
<line x1="238.1" y1="482.2" x2="242.5" y2="477.8" stroke="#111" stroke-width="0.96"/>
<line x1="238.1" y1="488.6" x2="242.5" y2="484.2" stroke="#111" stroke-width="0.96"/>
<line x1="238.1" y1="571" x2="242.5" y2="566.6" stroke="#111" stroke-width="0.96"/>
<line x1="238.1" y1="579.2" x2="242.5" y2="574.8" stroke="#111" stroke-width="0.96"/>
<text class="s" x="238" y="189.8" font-size="6.93" fill="#111" stroke="#111" stroke-width="0.22" text-anchor="middle" transform="rotate(-90 238 189.8)" textLength="6.78" lengthAdjust="spacingAndGlyphs">50</text>
<text class="s" x="238" y="262" font-size="6.93" fill="#111" stroke="#111" stroke-width="0.22" text-anchor="middle" transform="rotate(-90 238 262)" textLength="11.87" lengthAdjust="spacingAndGlyphs">5.25</text>
<text class="s" x="238" y="331" font-size="6.93" fill="#111" stroke="#111" stroke-width="0.22" text-anchor="middle" transform="rotate(-90 238 331)" textLength="6.78" lengthAdjust="spacingAndGlyphs">30</text>
<text class="s" x="238" y="407" font-size="6.93" fill="#111" stroke="#111" stroke-width="0.22" text-anchor="middle" transform="rotate(-90 238 407)" textLength="11.87" lengthAdjust="spacingAndGlyphs">5.85</text>
<text class="s" x="238" y="483.3" font-size="6.93" fill="#111" stroke="#111" stroke-width="0.22" text-anchor="middle" transform="rotate(-90 238 483.3)" textLength="6.78" lengthAdjust="spacingAndGlyphs">25</text>
<text class="s" x="236.5" y="528" font-size="6.93" fill="#111" stroke="#111" stroke-width="0.22" text-anchor="middle" transform="rotate(-90 236.5 528)" textLength="11.87" lengthAdjust="spacingAndGlyphs">3.30</text>
<text class="s" x="236.5" y="573" font-size="6.93" fill="#111" stroke="#111" stroke-width="0.22" text-anchor="middle" transform="rotate(-90 236.5 573)" textLength="6.78" lengthAdjust="spacingAndGlyphs">30</text>
<text class="s" x="264.5" y="174.5" font-size="6.38" fill="#111" stroke="#111" stroke-width="0.22" text-anchor="middle" textLength="6.24" lengthAdjust="spacingAndGlyphs">25</text>
<text class="s" x="349" y="174.6" font-size="6.93" fill="#111" stroke="#111" stroke-width="0.22" text-anchor="middle" textLength="11.87" lengthAdjust="spacingAndGlyphs">6.36</text>
<text class="s" x="343" y="220" font-size="6.93" fill="#111" stroke="#111" stroke-width="0.22" text-anchor="middle" textLength="11.87" lengthAdjust="spacingAndGlyphs">6.55</text>
<text class="s" x="428.3" y="220" font-size="6.38" fill="#111" stroke="#111" stroke-width="0.22" text-anchor="middle" textLength="6.24" lengthAdjust="spacingAndGlyphs">25</text>
<text class="s" x="463" y="220" font-size="6.93" fill="#111" stroke="#111" stroke-width="0.22" text-anchor="middle" textLength="11.87" lengthAdjust="spacingAndGlyphs">2.55</text>
<text class="s" x="499" y="220" font-size="6.38" fill="#111" stroke="#111" stroke-width="0.22" text-anchor="middle" textLength="6.24" lengthAdjust="spacingAndGlyphs">25</text>
<text class="s" x="606.5" y="220" font-size="6.93" fill="#111" stroke="#111" stroke-width="0.22" text-anchor="middle" textLength="11.87" lengthAdjust="spacingAndGlyphs">8.45</text>
<line x1="259.9" y1="178" x2="263.5" y2="174.4" stroke="#111" stroke-width="0.96"/>
<line x1="266.5" y1="178" x2="270.1" y2="174.4" stroke="#111" stroke-width="0.96"/>
<line x1="259.9" y1="223.4" x2="263.5" y2="219.8" stroke="#111" stroke-width="0.96"/>
<line x1="421.2" y1="223.4" x2="424.8" y2="219.8" stroke="#111" stroke-width="0.96"/>
<line x1="429.7" y1="223.4" x2="433.3" y2="219.8" stroke="#111" stroke-width="0.96"/>
<line x1="493.2" y1="223.4" x2="496.8" y2="219.8" stroke="#111" stroke-width="0.96"/>
<line x1="501.8" y1="223.4" x2="505.4" y2="219.8" stroke="#111" stroke-width="0.96"/>
<line x1="710.7" y1="223.4" x2="714.3" y2="219.8" stroke="#111" stroke-width="0.96"/>
<line x1="261.7" y1="397" x2="715" y2="397" stroke="#111" stroke-width="0.84"/>
<text class="s" x="355" y="395.6" font-size="6.93" fill="#111" stroke="#111" stroke-width="0.22" text-anchor="middle" textLength="11.87" lengthAdjust="spacingAndGlyphs">7.55</text>
<text class="s" x="466.5" y="393.5" font-size="6.93" fill="#111" stroke="#111" stroke-width="0.22" text-anchor="middle" textLength="11.87" lengthAdjust="spacingAndGlyphs">1.50</text>
<line x1="259.9" y1="398.8" x2="263.5" y2="395.2" stroke="#111" stroke-width="0.96"/>
<line x1="449.2" y1="398.8" x2="452.8" y2="395.2" stroke="#111" stroke-width="0.96"/>
<line x1="485.8" y1="398.8" x2="489.4" y2="395.2" stroke="#111" stroke-width="0.96"/>
<text class="s" x="607" y="395.4" font-size="6.93" fill="#111" stroke="#111" stroke-width="0.22" text-anchor="middle" textLength="11.87" lengthAdjust="spacingAndGlyphs">9.00</text>
<line x1="710.7" y1="398.8" x2="714.3" y2="395.2" stroke="#111" stroke-width="0.96"/>
<line x1="296.3" y1="565" x2="442.5" y2="565" stroke="#111" stroke-width="0.84"/>
<text class="s" x="373" y="563.6" font-size="6.93" fill="#111" stroke="#111" stroke-width="0.22" text-anchor="middle" textLength="11.87" lengthAdjust="spacingAndGlyphs">6.15</text>
<line x1="294.5" y1="566.8" x2="298.1" y2="563.2" stroke="#111" stroke-width="0.96"/>
<line x1="487.6" y1="412.6" x2="535" y2="412.6" stroke="#111" stroke-width="0.84"/>
<text class="s" x="509.5" y="410.4" font-size="7.26" fill="#111" stroke="#111" stroke-width="0.22" text-anchor="middle" textLength="12.43" lengthAdjust="spacingAndGlyphs">1.80</text>
<line x1="485.8" y1="414.4" x2="489.4" y2="410.8" stroke="#111" stroke-width="0.96"/>
<line x1="530.7" y1="414.4" x2="534.3" y2="410.8" stroke="#111" stroke-width="0.96"/>
<line x1="495" y1="152" x2="712.5" y2="152" stroke="#111" stroke-width="0.96"/>
<line x1="503.6" y1="155" x2="597" y2="155" stroke="#111" stroke-width="0.84"/>
<line x1="603.8" y1="160" x2="706.3" y2="160" stroke="#111" stroke-width="0.84"/>
<text class="s" x="549" y="148.6" font-size="6.93" fill="#111" stroke="#111" stroke-width="0.22" text-anchor="middle" textLength="11.87" lengthAdjust="spacingAndGlyphs">3.85</text>
<text class="s" x="600.5" y="148.6" font-size="6.38" fill="#111" stroke="#111" stroke-width="0.22" text-anchor="middle" textLength="6.24" lengthAdjust="spacingAndGlyphs">25</text>
<text class="s" x="654" y="148.6" font-size="6.93" fill="#111" stroke="#111" stroke-width="0.22" text-anchor="middle" textLength="11.87" lengthAdjust="spacingAndGlyphs">4.10</text>
<text class="s" x="709.5" y="148.6" font-size="6.38" fill="#111" stroke="#111" stroke-width="0.22" text-anchor="middle" textLength="6.24" lengthAdjust="spacingAndGlyphs">25</text>
<line x1="595.2" y1="153.8" x2="598.8" y2="150.2" stroke="#111" stroke-width="0.96"/>
<line x1="602" y1="153.8" x2="605.6" y2="150.2" stroke="#111" stroke-width="0.96"/>
<line x1="704.5" y1="153.8" x2="708.1" y2="150.2" stroke="#111" stroke-width="0.96"/>
<line x1="710.7" y1="153.8" x2="714.3" y2="150.2" stroke="#111" stroke-width="0.96"/>
<line x1="712.5" y1="155" x2="712.5" y2="581" stroke="#111" stroke-width="0.96"/>
<line x1="710.7" y1="161.8" x2="714.3" y2="158.2" stroke="#111" stroke-width="0.96"/>
<line x1="710.7" y1="174.3" x2="714.3" y2="170.7" stroke="#111" stroke-width="0.96"/>
<line x1="710.7" y1="328.8" x2="714.3" y2="325.2" stroke="#111" stroke-width="0.96"/>
<line x1="710.7" y1="336.8" x2="714.3" y2="333.2" stroke="#111" stroke-width="0.96"/>
<line x1="710.7" y1="410.8" x2="714.3" y2="407.2" stroke="#111" stroke-width="0.96"/>
<line x1="710.7" y1="494.8" x2="714.3" y2="491.2" stroke="#111" stroke-width="0.96"/>
<line x1="710.7" y1="506.8" x2="714.3" y2="503.2" stroke="#111" stroke-width="0.96"/>
<text class="s" x="719.6" y="164.8" font-size="6.38" fill="#111" stroke="#111" stroke-width="0.22" text-anchor="middle" transform="rotate(-90 719.6 164.8)" textLength="6.24" lengthAdjust="spacingAndGlyphs">50</text>
<text class="s" x="719.6" y="250.5" font-size="6.93" fill="#111" stroke="#111" stroke-width="0.22" text-anchor="middle" transform="rotate(-90 719.6 250.5)" textLength="11.87" lengthAdjust="spacingAndGlyphs">6.20</text>
<text class="s" x="719.6" y="331" font-size="6.38" fill="#111" stroke="#111" stroke-width="0.22" text-anchor="middle" transform="rotate(-90 719.6 331)" textLength="6.24" lengthAdjust="spacingAndGlyphs">30</text>
<text class="s" x="719.6" y="429" font-size="6.93" fill="#111" stroke="#111" stroke-width="0.22" text-anchor="middle" transform="rotate(-90 719.6 429)" textLength="11.87" lengthAdjust="spacingAndGlyphs">6.35</text>
<line x1="175.6" y1="576.3" x2="442.5" y2="576.3" stroke="#111" stroke-width="0.84"/>
<line x1="296.3" y1="486.6" x2="296.3" y2="657.3" stroke="#111" stroke-width="0.96"/>
<line x1="301.8" y1="576.3" x2="301.8" y2="652" stroke="#111" stroke-width="0.84"/>
<line x1="301.8" y1="652" x2="451" y2="652" stroke="#111" stroke-width="0.84"/>
<line x1="296.3" y1="657.3" x2="451" y2="657.3" stroke="#111" stroke-width="0.6"/>
<line x1="242" y1="423.3" x2="716" y2="423.3" stroke="#111" stroke-width="0.72" stroke-dasharray="14 3 2 3"/>
<line x1="473" y1="128" x2="473" y2="690" stroke="#111" stroke-width="0.72" stroke-dasharray="14 3 2 3"/>
<rect x="422.9" y="146.9" width="2.1" height="180.1" fill="#b4b4b4"/>
<rect x="422.9" y="146.9" width="80.9" height="2" fill="#b4b4b4"/>
<rect x="501.8" y="146.9" width="2" height="152.7" fill="#b4b4b4"/>
<polyline points="422.9,327 422.9,146.9 503.8,146.9 503.8,299.6" fill="none" stroke="#444" stroke-width="1.08"/>
<polyline points="425,327 425,148.9 501.8,148.9 501.8,299.6" fill="none" stroke="#444" stroke-width="0.96"/>
<rect x="431.6" y="154.4" width="63.2" height="2.4" fill="#4a4a4a"/>
<rect x="431.6" y="156.8" width="2.2" height="170.2" fill="#d0d0d0"/>
<line x1="431.6" y1="156" x2="431.6" y2="327" stroke="#444" stroke-width="0.84"/>
<line x1="433.9" y1="156" x2="433.9" y2="293" stroke="#444" stroke-width="0.84"/>
<rect x="492.2" y="156.8" width="2.6" height="142.8" fill="#d0d0d0"/>
<line x1="492.2" y1="156" x2="492.2" y2="299.6" stroke="#444" stroke-width="0.84"/>
<line x1="494.9" y1="173" x2="494.9" y2="299.6" stroke="#444" stroke-width="0.84"/>
<line x1="498.5" y1="173.5" x2="498.5" y2="299.6" stroke="#444" stroke-width="0.72"/>
<line x1="494.9" y1="299.6" x2="503.8" y2="299.6" stroke="#444" stroke-width="0.96"/>
<polyline points="447.2,233 447.2,168.6 478.8,168.6 478.8,242.6" fill="none" stroke="#111" stroke-width="0.96"/>
<rect x="461.6" y="181.6" width="3.4" height="60" fill="#aaa"/>
<line x1="461.6" y1="182.5" x2="461.6" y2="241.6" stroke="#444" stroke-width="0.84"/>
<line x1="465" y1="182.5" x2="465" y2="241.6" stroke="#444" stroke-width="0.84"/>
<line x1="465" y1="182.5" x2="492.2" y2="182.5" stroke="#111" stroke-width="0.96"/>
<line x1="433.9" y1="182.5" x2="461.6" y2="182.5" stroke="#111" stroke-width="0.96"/>
<line x1="465" y1="190.1" x2="492.2" y2="190.1" stroke="#111" stroke-width="0.96"/>
<line x1="433.9" y1="190.1" x2="461.6" y2="190.1" stroke="#111" stroke-width="0.96"/>
<line x1="465" y1="197.6" x2="492.2" y2="197.6" stroke="#111" stroke-width="0.96"/>
<line x1="447" y1="197.6" x2="461.6" y2="197.6" stroke="#111" stroke-width="0.96"/>
<line x1="465" y1="205.1" x2="492.2" y2="205.1" stroke="#111" stroke-width="0.96"/>
<line x1="434.5" y1="205.1" x2="461.6" y2="205.1" stroke="#111" stroke-width="0.84" stroke-dasharray="2.4 1.6"/>
<line x1="465" y1="212.6" x2="492.2" y2="212.6" stroke="#111" stroke-width="0.96"/>
<line x1="434.5" y1="212.6" x2="461.6" y2="212.6" stroke="#111" stroke-width="0.84" stroke-dasharray="2.4 1.6"/>
<line x1="465" y1="227.5" x2="492.2" y2="227.5" stroke="#111" stroke-width="0.96"/>
<line x1="434.5" y1="227.5" x2="461.6" y2="227.5" stroke="#111" stroke-width="0.84" stroke-dasharray="2.4 1.6"/>
<line x1="465" y1="235" x2="492.2" y2="235" stroke="#111" stroke-width="0.96"/>
<line x1="434.5" y1="235" x2="461.6" y2="235" stroke="#111" stroke-width="0.84" stroke-dasharray="2.4 1.6"/>
<line x1="465" y1="241.6" x2="492.2" y2="241.6" stroke="#111" stroke-width="0.96"/>
<line x1="434.5" y1="241.6" x2="461.6" y2="241.6" stroke="#111" stroke-width="0.84" stroke-dasharray="2.4 1.6"/>
<line x1="434.5" y1="220.2" x2="461.6" y2="220.2" stroke="#111" stroke-width="0.84" stroke-dasharray="2.4 1.6"/>
<path d="M428,205.4 L443,202.2 L444.5,198.8 L449.5,204.6 L451,200.6 L465.5,197.4" fill="none" stroke="#111" stroke-width="0.84"/>
<line x1="447.2" y1="204" x2="447.2" y2="233" stroke="#111" stroke-width="0.84" stroke-dasharray="2.4 1.6"/>
<path d="M445.6,230.5 L447.2,234.2 L448.8,230.5" fill="none" stroke="#111" stroke-width="0.84"/>
<path d="M432.4,206 L434,208.6 L432,211.2 L434,213.8 L432,216.4 L434,219 L432,221.6 L434,224.2 L432,226.8 L434,229.4 L432,232 L434,234.6 L432,237.2 L434,239.8" fill="none" stroke="#111" stroke-width="0.72" stroke-dasharray="1.6 1"/>
<line x1="486.2" y1="146.9" x2="486.2" y2="391.5" stroke="#111" stroke-width="0.84"/>
<line x1="484.6" y1="150.5" x2="487.8" y2="147.3" stroke="#111" stroke-width="0.96"/>
<line x1="484.6" y1="157.2" x2="487.8" y2="154" stroke="#111" stroke-width="0.96"/>
<line x1="484.6" y1="243.2" x2="487.8" y2="240" stroke="#111" stroke-width="0.96"/>
<line x1="484.6" y1="268.4" x2="487.8" y2="265.2" stroke="#111" stroke-width="0.96"/>
<line x1="484.6" y1="291.3" x2="487.8" y2="288.1" stroke="#111" stroke-width="0.96"/>
<line x1="484.6" y1="293.9" x2="487.8" y2="290.7" stroke="#111" stroke-width="0.96"/>
<line x1="484.6" y1="328.6" x2="487.8" y2="325.4" stroke="#111" stroke-width="0.96"/>
<line x1="484.6" y1="385.6" x2="487.8" y2="382.4" stroke="#111" stroke-width="0.96"/>
<text class="s" x="484.4" y="151.6" font-size="6.16" fill="#111" stroke="#111" stroke-width="0.22" text-anchor="middle" transform="rotate(-90 484.4 151.6)" textLength="6.03" lengthAdjust="spacingAndGlyphs">25</text>
<text class="s" x="484.4" y="200" font-size="6.93" fill="#111" stroke="#111" stroke-width="0.22" text-anchor="middle" transform="rotate(-90 484.4 200)" textLength="11.87" lengthAdjust="spacingAndGlyphs">3.50</text>
<text class="s" x="484.4" y="263.6" font-size="6.93" fill="#111" stroke="#111" stroke-width="0.22" text-anchor="middle" transform="rotate(-90 484.4 263.6)" textLength="6.78" lengthAdjust="spacingAndGlyphs">90</text>
<text class="s" x="484.4" y="290.6" font-size="6.38" fill="#111" stroke="#111" stroke-width="0.22" text-anchor="middle" transform="rotate(-90 484.4 290.6)" textLength="6.24" lengthAdjust="spacingAndGlyphs">10</text>
<text class="s" x="484.4" y="333" font-size="6.93" fill="#111" stroke="#111" stroke-width="0.22" text-anchor="middle" transform="rotate(-90 484.4 333)" textLength="11.87" lengthAdjust="spacingAndGlyphs">3.45</text>
<text class="s" x="484.4" y="381.6" font-size="6.38" fill="#111" stroke="#111" stroke-width="0.22" text-anchor="middle" transform="rotate(-90 484.4 381.6)" textLength="6.24" lengthAdjust="spacingAndGlyphs">25</text>
<rect x="432.8" y="269.8" width="34.1" height="19.9" fill="none" stroke="#111" stroke-width="0.84"/>
<line x1="466.9" y1="289.7" x2="470" y2="289.7" stroke="#111" stroke-width="0.84"/>
<text class="s" x="446.5" y="283.4" font-size="6.4" fill="#111" stroke="#111" stroke-width="0.22">Χ.Α.</text>
<circle cx="439" cy="276.2" r="0.9" fill="none" stroke="#111" stroke-width="0.84"/>
<path d="M439,277.2 L439.2,280.8 L442,280.8 L443.4,283.8 M439.1,278.8 L441.6,278.8" fill="none" stroke="#111" stroke-width="0.84"/>
<path d="M438.2,279.2 A2.9,2.9 0 1 0 442,282.6" fill="none" stroke="#111" stroke-width="0.84"/>
<rect x="432.8" y="293.4" width="16.8" height="33.6" fill="none" stroke="#111" stroke-width="0.84"/>
<line x1="432.8" y1="293.4" x2="449.6" y2="327" stroke="#111" stroke-width="0.84" stroke-dasharray="3 1.6"/>
<line x1="449.6" y1="293.4" x2="432.8" y2="327" stroke="#111" stroke-width="0.84" stroke-dasharray="3 1.6"/>
<text class="s" x="441" y="302.4" font-size="5.8" fill="#111" stroke="#111" stroke-width="0.22" text-anchor="middle" textLength="15" lengthAdjust="spacingAndGlyphs">ΚΕΝΟ</text>
<path d="M470,289.7 A23,23 0 0 1 493,266.8" fill="none" stroke="#111" stroke-width="0.84"/>
<line x1="493" y1="266.8" x2="493" y2="289.7" stroke="#111" stroke-width="0.84"/>
<path d="M501.8,299.6 A22.6,22.6 0 0 1 520,322.3" fill="none" stroke="#111" stroke-width="0.84"/>
<rect x="413.2" y="278.6" width="9.7" height="22.8" rx="1.4" fill="#111" stroke="#000" stroke-width="0.6"/>
<rect x="419.4" y="280.2" width="2.4" height="18.8" fill="#8a8a8a"/>
<rect x="413.2" y="305.1" width="9.7" height="22.1" rx="1.4" fill="#111" stroke="#000" stroke-width="0.6"/>
<rect x="419.4" y="306.7" width="2.4" height="18.1" fill="#8a8a8a"/>
<polyline points="441.6,335.6 441.6,385.6 494.5,385.6" fill="none" stroke="#444" stroke-width="0.96"/>
<polyline points="444.4,335.6 444.4,383.6 478,383.6" fill="none" stroke="#444" stroke-width="0.84"/>
<rect x="477.4" y="378" width="9.8" height="6.5" fill="none" stroke="#444" stroke-width="0.72"/>
<line x1="444.4" y1="358.5" x2="557" y2="358.5" stroke="#111" stroke-width="0.84"/>
<line x1="445.4" y1="360.1" x2="448.6" y2="356.9" stroke="#111" stroke-width="0.96"/>
<line x1="448.6" y1="360.1" x2="451.8" y2="356.9" stroke="#111" stroke-width="0.96"/>
<line x1="493.4" y1="360.1" x2="496.6" y2="356.9" stroke="#111" stroke-width="0.96"/>
<line x1="500.9" y1="360.1" x2="504.1" y2="356.9" stroke="#111" stroke-width="0.96"/>
<text class="s" x="448.6" y="356.6" font-size="5.94" fill="#111" stroke="#111" stroke-width="0.22" text-anchor="middle" textLength="5.81" lengthAdjust="spacingAndGlyphs">10</text>
<text class="s" x="473.5" y="356.6" font-size="6.93" fill="#111" stroke="#111" stroke-width="0.22" text-anchor="middle" textLength="11.87" lengthAdjust="spacingAndGlyphs">1.80</text>
<text class="s" x="498.8" y="356.6" font-size="6.16" fill="#111" stroke="#111" stroke-width="0.22" text-anchor="middle" textLength="6.03" lengthAdjust="spacingAndGlyphs">25</text>
<path d="M452,405 A24,24 0 0 0 476,381.4" fill="none" stroke="#111" stroke-width="0.84"/>
<line x1="487.3" y1="378" x2="487.3" y2="581" stroke="#444" stroke-width="0.96"/>
<line x1="406" y1="395.4" x2="451" y2="395.4" stroke="#111" stroke-width="0.72"/>
<path d="M495,326.3 H556.3 V385 H495 V377.6 H548.8 V333.8 H495 Z" fill="#000" stroke="#111" stroke-width="0.6"/>
<rect x="494.2" y="322.6" width="63.2" height="63.6" fill="none" stroke="#555" stroke-width="0.72"/>
<rect x="495.5" y="322.6" width="24.5" height="3.7" fill="#555"/>
<rect x="502.6" y="336" width="40" height="40" fill="none" stroke="#666" stroke-width="0.84"/>
<rect x="504.4" y="338" width="36.4" height="36" fill="none" stroke="#888" stroke-width="0.6"/>
<line x1="516" y1="336" x2="516" y2="376" stroke="#555" stroke-width="0.72"/>
<text class="s" x="513.8" y="356" font-size="6.6" fill="#111" stroke="#111" stroke-width="0.22" text-anchor="middle" transform="rotate(-90 513.8 356)" textLength="11.3" lengthAdjust="spacingAndGlyphs">1.60</text>
<text class="s" x="528" y="358.6" font-size="7.26" fill="#111" stroke="#111" stroke-width="0.22" text-anchor="middle" textLength="12.43" lengthAdjust="spacingAndGlyphs">1.90</text>
<rect x="488" y="417.5" width="44.6" height="160.5" fill="none" stroke="#444" stroke-width="0.96"/>
<rect x="489.6" y="419.1" width="41.4" height="30.3" fill="none" stroke="#444" stroke-width="0.72"/>
<path d="M532,429.5 A19.5,19.5 0 0 0 512.5,449" fill="none" stroke="#111" stroke-width="0.84"/>
<rect x="512.6" y="448.2" width="19" height="2" fill="#555"/>
<text class="s" x="514" y="429.1" font-size="5.9" fill="#111" stroke="#111" stroke-width="0.22" text-anchor="middle" textLength="30" lengthAdjust="spacingAndGlyphs">ΑΠΟΘΗΚΗ</text>
<text class="s" x="511.5" y="435.1" font-size="5.9" fill="#111" stroke="#111" stroke-width="0.22" text-anchor="middle">202</text>
<text class="s" x="511.5" y="442.1" font-size="6.8" fill="#111" stroke="#111" stroke-width="0.22" text-anchor="middle" textLength="23" lengthAdjust="spacingAndGlyphs">2.43τ.μ.</text>
<text class="s" x="496.5" y="433.5" font-size="6.38" fill="#111" stroke="#111" stroke-width="0.22" text-anchor="middle" transform="rotate(-90 496.5 433.5)" textLength="13.2" lengthAdjust="spacingAndGlyphs">1.20</text>
<line x1="496.9" y1="419.8" x2="499.9" y2="416.8" stroke="#111" stroke-width="0.96"/>
<rect x="489.6" y="452.8" width="41.4" height="29" fill="none" stroke="#444" stroke-width="0.72"/>
<line x1="488" y1="451" x2="532.6" y2="451" stroke="#444" stroke-width="0.72"/>
<path d="M512.5,453 A19.5,19.5 0 0 0 532,472.5" fill="none" stroke="#111" stroke-width="0.84"/>
<rect x="512.6" y="451.8" width="19" height="2" fill="#555"/>
<text class="s" x="514" y="462.8" font-size="5.9" fill="#111" stroke="#111" stroke-width="0.22" text-anchor="middle" textLength="30" lengthAdjust="spacingAndGlyphs">ΑΠΟΘΗΚΗ</text>
<text class="s" x="511.5" y="468.8" font-size="5.9" fill="#111" stroke="#111" stroke-width="0.22" text-anchor="middle">201</text>
<text class="s" x="511.5" y="475.8" font-size="6.8" fill="#111" stroke="#111" stroke-width="0.22" text-anchor="middle" textLength="23" lengthAdjust="spacingAndGlyphs">2.34τ.μ.</text>
<text class="s" x="496.5" y="467.2" font-size="6.38" fill="#111" stroke="#111" stroke-width="0.22" text-anchor="middle" transform="rotate(-90 496.5 467.2)" textLength="13.2" lengthAdjust="spacingAndGlyphs">1.20</text>
<line x1="496.9" y1="453.5" x2="499.9" y2="450.5" stroke="#111" stroke-width="0.96"/>
<rect x="489.6" y="485.2" width="41.4" height="28.6" fill="none" stroke="#444" stroke-width="0.72"/>
<line x1="488" y1="483.4" x2="532.6" y2="483.4" stroke="#444" stroke-width="0.72"/>
<path d="M532,493.9 A19.5,19.5 0 0 0 512.5,513.4" fill="none" stroke="#111" stroke-width="0.84"/>
<rect x="512.6" y="512.6" width="19" height="2" fill="#555"/>
<text class="s" x="514" y="495.2" font-size="5.9" fill="#111" stroke="#111" stroke-width="0.22" text-anchor="middle" textLength="30" lengthAdjust="spacingAndGlyphs">ΑΠΟΘΗΚΗ</text>
<text class="s" x="511.5" y="501.2" font-size="5.9" fill="#111" stroke="#111" stroke-width="0.22" text-anchor="middle">103</text>
<text class="s" x="511.5" y="508.2" font-size="6.8" fill="#111" stroke="#111" stroke-width="0.22" text-anchor="middle" textLength="23" lengthAdjust="spacingAndGlyphs">2.34τ.μ.</text>
<text class="s" x="496.5" y="499.6" font-size="6.38" fill="#111" stroke="#111" stroke-width="0.22" text-anchor="middle" transform="rotate(-90 496.5 499.6)" textLength="13.2" lengthAdjust="spacingAndGlyphs">1.20</text>
<line x1="496.9" y1="485.9" x2="499.9" y2="482.9" stroke="#111" stroke-width="0.96"/>
<rect x="489.6" y="517.2" width="41.4" height="28.6" fill="none" stroke="#444" stroke-width="0.72"/>
<line x1="488" y1="515.4" x2="532.6" y2="515.4" stroke="#444" stroke-width="0.72"/>
<path d="M512.5,517.4 A19.5,19.5 0 0 0 532,536.9" fill="none" stroke="#111" stroke-width="0.84"/>
<rect x="512.6" y="516.2" width="19" height="2" fill="#555"/>
<text class="s" x="514" y="527.2" font-size="5.9" fill="#111" stroke="#111" stroke-width="0.22" text-anchor="middle" textLength="30" lengthAdjust="spacingAndGlyphs">ΑΠΟΘΗΚΗ</text>
<text class="s" x="511.5" y="533.2" font-size="5.9" fill="#111" stroke="#111" stroke-width="0.22" text-anchor="middle">102</text>
<text class="s" x="511.5" y="540.2" font-size="6.8" fill="#111" stroke="#111" stroke-width="0.22" text-anchor="middle" textLength="23" lengthAdjust="spacingAndGlyphs">2.34τ.μ.</text>
<text class="s" x="496.5" y="531.6" font-size="6.38" fill="#111" stroke="#111" stroke-width="0.22" text-anchor="middle" transform="rotate(-90 496.5 531.6)" textLength="13.2" lengthAdjust="spacingAndGlyphs">1.20</text>
<line x1="496.9" y1="517.9" x2="499.9" y2="514.9" stroke="#111" stroke-width="0.96"/>
<rect x="489.6" y="549.2" width="41.4" height="27.2" fill="none" stroke="#444" stroke-width="0.72"/>
<line x1="488" y1="547.4" x2="532.6" y2="547.4" stroke="#444" stroke-width="0.72"/>
<path d="M532,556.5 A19.5,19.5 0 0 0 512.5,576" fill="none" stroke="#111" stroke-width="0.84"/>
<rect x="512.6" y="575.2" width="19" height="2" fill="#555"/>
<text class="s" x="514" y="559.2" font-size="5.9" fill="#111" stroke="#111" stroke-width="0.22" text-anchor="middle" textLength="30" lengthAdjust="spacingAndGlyphs">ΑΠΟΘΗΚΗ</text>
<text class="s" x="511.5" y="565.2" font-size="5.9" fill="#111" stroke="#111" stroke-width="0.22" text-anchor="middle">101</text>
<text class="s" x="511.5" y="572.2" font-size="6.8" fill="#111" stroke="#111" stroke-width="0.22" text-anchor="middle" textLength="23" lengthAdjust="spacingAndGlyphs">2.43τ.μ.</text>
<text class="s" x="496.5" y="563.6" font-size="6.38" fill="#111" stroke="#111" stroke-width="0.22" text-anchor="middle" transform="rotate(-90 496.5 563.6)" textLength="13.2" lengthAdjust="spacingAndGlyphs">1.20</text>
<line x1="496.9" y1="549.9" x2="499.9" y2="546.9" stroke="#111" stroke-width="0.96"/>
<line x1="498.4" y1="417.5" x2="498.4" y2="578" stroke="#111" stroke-width="0.84"/>
<line x1="496.9" y1="578.7" x2="499.9" y2="575.7" stroke="#111" stroke-width="0.96"/>
<rect x="554.6" y="499.4" width="34" height="78.6" fill="none" stroke="#444" stroke-width="0.96"/>
<rect x="556.2" y="501" width="30.8" height="35" fill="none" stroke="#444" stroke-width="0.72"/>
<rect x="556.2" y="541" width="30.8" height="35.4" fill="none" stroke="#444" stroke-width="0.72"/>
<rect x="555.5" y="536.6" width="32.5" height="3.4" fill="#555"/>
<text class="s" x="573" y="512" font-size="5.9" fill="#111" stroke="#111" stroke-width="0.22" text-anchor="middle" textLength="29.4" lengthAdjust="spacingAndGlyphs">ΑΠΟΘΗΚΗ</text>
<text class="s" x="571.6" y="518.5" font-size="5.9" fill="#111" stroke="#111" stroke-width="0.22" text-anchor="middle">203</text>
<text class="s" x="567.9" y="526.5" font-size="6.8" fill="#111" stroke="#111" stroke-width="0.22" text-anchor="middle" textLength="22.5" lengthAdjust="spacingAndGlyphs">2.31τ.μ.</text>
<text class="s" x="572.5" y="533.1" font-size="6.8" fill="#111" stroke="#111" stroke-width="0.22" text-anchor="middle" textLength="13.2" lengthAdjust="spacingAndGlyphs">1.25</text>
<text class="s" x="585.2" y="517.4" font-size="6.6" fill="#111" stroke="#111" stroke-width="0.22" text-anchor="middle" transform="rotate(-90 585.2 517.4)" textLength="11.3" lengthAdjust="spacingAndGlyphs">1.50</text>
<text class="s" x="573" y="548.4" font-size="5.9" fill="#111" stroke="#111" stroke-width="0.22" text-anchor="middle" textLength="29.4" lengthAdjust="spacingAndGlyphs">ΑΠΟΘΗΚΗ</text>
<text class="s" x="571.6" y="553.7" font-size="5.9" fill="#111" stroke="#111" stroke-width="0.22" text-anchor="middle">301</text>
<text class="s" x="567.9" y="561.6" font-size="6.8" fill="#111" stroke="#111" stroke-width="0.22" text-anchor="middle" textLength="22.5" lengthAdjust="spacingAndGlyphs">2.31τ.μ.</text>
<text class="s" x="572.5" y="570.2" font-size="6.8" fill="#111" stroke="#111" stroke-width="0.22" text-anchor="middle" textLength="13.2" lengthAdjust="spacingAndGlyphs">1.25</text>
<text class="s" x="585.2" y="559" font-size="6.6" fill="#111" stroke="#111" stroke-width="0.22" text-anchor="middle" transform="rotate(-90 585.2 559)" textLength="11.3" lengthAdjust="spacingAndGlyphs">1.50</text>
<path d="M556.5,517 A19,19 0 0 1 575,536.4" fill="none" stroke="#111" stroke-width="0.84"/>
<path d="M556.5,560 A19,19 0 0 0 575,541.2" fill="none" stroke="#111" stroke-width="0.84"/>
<path d="M588.8,498.8 H603.8 V493.4 H609.4 V505 H588.8 Z" fill="#000" stroke="#111" stroke-width="0.36"/>
<rect x="588.8" y="573.8" width="12.5" height="7.6" fill="#000"/>
<rect x="706.3" y="493" width="6.1" height="12" fill="#000"/>
<rect x="699.5" y="574.4" width="12.9" height="7" fill="#000"/>
<line x1="588.8" y1="505" x2="588.8" y2="574" stroke="#444" stroke-width="1.08"/>
<line x1="591.3" y1="505" x2="591.3" y2="574" stroke="#444" stroke-width="0.96"/>
<line x1="588" y1="578.2" x2="712.4" y2="578.2" stroke="#444" stroke-width="1.08"/>
<line x1="588" y1="581.3" x2="712.4" y2="581.3" stroke="#444" stroke-width="1.08"/>
<line x1="451" y1="581.3" x2="588" y2="581.3" stroke="#444" stroke-width="0.96"/>
<line x1="488" y1="578.6" x2="588" y2="578.6" stroke="#444" stroke-width="0.96"/>
<line x1="608" y1="526.3" x2="608" y2="578" stroke="#444" stroke-width="0.84"/>
<line x1="610.5" y1="526.3" x2="610.5" y2="578" stroke="#444" stroke-width="0.84"/>
<line x1="610.5" y1="526.3" x2="645" y2="526.3" stroke="#444" stroke-width="0.84"/>
<line x1="645" y1="523.8" x2="645" y2="578" stroke="#444" stroke-width="0.84"/>
<line x1="647.8" y1="505.5" x2="647.8" y2="578" stroke="#444" stroke-width="0.84"/>
<line x1="647.8" y1="523.8" x2="675" y2="523.8" stroke="#444" stroke-width="0.84"/>
<line x1="675" y1="493" x2="675" y2="581" stroke="#444" stroke-width="0.84"/>
<line x1="677.5" y1="493" x2="677.5" y2="581" stroke="#444" stroke-width="0.84"/>
<line x1="675" y1="493" x2="706.3" y2="493" stroke="#444" stroke-width="0.96"/>
<line x1="677.5" y1="495" x2="706.3" y2="495" stroke="#444" stroke-width="0.72"/>
<line x1="710.2" y1="505" x2="710.2" y2="574.4" stroke="#444" stroke-width="0.84"/>
<rect x="677.5" y="535.6" width="33" height="3.2" fill="#555"/>
<line x1="592.6" y1="510" x2="592.6" y2="526.3" stroke="#111" stroke-width="0.84"/>
<path d="M592.6,510 A16.3,16.3 0 0 1 608.9,526.3" fill="none" stroke="#111" stroke-width="0.84"/>
<line x1="644.2" y1="505.3" x2="644.2" y2="526.3" stroke="#111" stroke-width="0.84"/>
<path d="M620.7,526 A23.5,20.7 0 0 1 644.2,505.3" fill="none" stroke="#111" stroke-width="0.84"/>
<line x1="650" y1="505.5" x2="650" y2="523.8" stroke="#111" stroke-width="0.84"/>
<path d="M650,505.5 A20,20 0 0 1 670,523.8" fill="none" stroke="#111" stroke-width="0.84"/>
<line x1="711.3" y1="535.3" x2="730" y2="535.3" stroke="#111" stroke-width="0.84"/>
<path d="M711.3,515 A20,20 0 0 1 730,535.3" fill="none" stroke="#111" stroke-width="0.84"/>
<line x1="711.3" y1="540" x2="730" y2="540" stroke="#111" stroke-width="0.84"/>
<path d="M730,540 A20,20 0 0 1 711.3,559" fill="none" stroke="#111" stroke-width="0.84"/>
<line x1="648.8" y1="544.5" x2="674.5" y2="570" stroke="#111" stroke-width="0.72" stroke-dasharray="2.4 1.6"/>
<line x1="674.5" y1="544.5" x2="648.8" y2="570" stroke="#111" stroke-width="0.72" stroke-dasharray="2.4 1.6"/>
<line x1="648.8" y1="544.5" x2="674.5" y2="544.5" stroke="#111" stroke-width="0.72" stroke-dasharray="2.4 1.6"/>
<path d="M711,559 L670,562 " fill="none" stroke="#111" stroke-width="0.72"/>
<path d="M673.5,560.2 L669,562 L673.6,563.4 Z" fill="#111" stroke="#111" stroke-width="0.48"/>
<line x1="722" y1="556" x2="734" y2="556" stroke="#111" stroke-width="0.72"/>
<path d="M681,589.6 L668.8,589.6 L661.3,569" fill="none" stroke="#111" stroke-width="0.72"/>
<line x1="590" y1="570" x2="712.4" y2="570" stroke="#111" stroke-width="0.84"/>
<line x1="589.8" y1="571.5" x2="592.8" y2="568.5" stroke="#111" stroke-width="0.96"/>
<line x1="606.5" y1="571.5" x2="609.5" y2="568.5" stroke="#111" stroke-width="0.96"/>
<line x1="609" y1="571.5" x2="612" y2="568.5" stroke="#111" stroke-width="0.96"/>
<line x1="643.5" y1="571.5" x2="646.5" y2="568.5" stroke="#111" stroke-width="0.96"/>
<line x1="646.3" y1="571.5" x2="649.3" y2="568.5" stroke="#111" stroke-width="0.96"/>
<line x1="673.5" y1="571.5" x2="676.5" y2="568.5" stroke="#111" stroke-width="0.96"/>
<line x1="676" y1="571.5" x2="679" y2="568.5" stroke="#111" stroke-width="0.96"/>
<line x1="707" y1="571.5" x2="710" y2="568.5" stroke="#111" stroke-width="0.96"/>
<line x1="710.5" y1="571.5" x2="713.5" y2="568.5" stroke="#111" stroke-width="0.96"/>
<text class="s" x="599.5" y="568.6" font-size="7.04" fill="#111" stroke="#111" stroke-width="0.22" text-anchor="middle" textLength="8.61" lengthAdjust="spacingAndGlyphs">.70</text>
<text class="s" x="612" y="568.6" font-size="5.94" fill="#111" stroke="#111" stroke-width="0.22" text-anchor="middle" textLength="5.81" lengthAdjust="spacingAndGlyphs">10</text>
<text class="s" x="628" y="568.6" font-size="7.04" fill="#111" stroke="#111" stroke-width="0.22" text-anchor="middle" textLength="12.06" lengthAdjust="spacingAndGlyphs">1.40</text>
<text class="s" x="645.5" y="568.6" font-size="5.94" fill="#111" stroke="#111" stroke-width="0.22" text-anchor="middle" textLength="5.81" lengthAdjust="spacingAndGlyphs">12</text>
<text class="s" x="660" y="568.6" font-size="7.04" fill="#111" stroke="#111" stroke-width="0.22" text-anchor="middle" textLength="12.06" lengthAdjust="spacingAndGlyphs">1.30</text>
<text class="s" x="678.5" y="568.6" font-size="5.94" fill="#111" stroke="#111" stroke-width="0.22" text-anchor="middle" textLength="5.81" lengthAdjust="spacingAndGlyphs">10</text>
<text class="s" x="694" y="568.6" font-size="7.04" fill="#111" stroke="#111" stroke-width="0.22" text-anchor="middle" textLength="12.06" lengthAdjust="spacingAndGlyphs">1.25</text>
<text class="s" x="711" y="568.6" font-size="5.94" fill="#111" stroke="#111" stroke-width="0.22" text-anchor="middle" textLength="5.81" lengthAdjust="spacingAndGlyphs">10</text>
<text class="s" x="618.4" y="553" font-size="7.04" fill="#111" stroke="#111" stroke-width="0.22" text-anchor="middle" transform="rotate(-90 618.4 553)" textLength="12.06" lengthAdjust="spacingAndGlyphs">2.10</text>
<line x1="682.6" y1="493" x2="682.6" y2="578" stroke="#111" stroke-width="0.84"/>
<line x1="681.1" y1="496.5" x2="684.1" y2="493.5" stroke="#111" stroke-width="0.96"/>
<line x1="681.1" y1="537.1" x2="684.1" y2="534.1" stroke="#111" stroke-width="0.96"/>
<line x1="681.1" y1="540.3" x2="684.1" y2="537.3" stroke="#111" stroke-width="0.96"/>
<line x1="681.1" y1="578" x2="684.1" y2="575" stroke="#111" stroke-width="0.96"/>
<text class="s" x="681" y="507" font-size="6.6" fill="#111" stroke="#111" stroke-width="0.22" text-anchor="middle" transform="rotate(-90 681 507)" textLength="11.3" lengthAdjust="spacingAndGlyphs">1.63</text>
<text class="s" x="681" y="553" font-size="6.6" fill="#111" stroke="#111" stroke-width="0.22" text-anchor="middle" transform="rotate(-90 681 553)" textLength="11.3" lengthAdjust="spacingAndGlyphs">1.63</text>
<text class="s" x="719.8" y="534.6" font-size="6.38" fill="#111" stroke="#111" stroke-width="0.22" text-anchor="middle" transform="rotate(-90 719.8 534.6)" textLength="6.24" lengthAdjust="spacingAndGlyphs">50</text>
<text class="s" x="695" y="517.8" font-size="5.9" fill="#111" stroke="#111" stroke-width="0.22" text-anchor="middle" textLength="30" lengthAdjust="spacingAndGlyphs">ΑΠΟΘΗΚΗ</text>
<text class="s" x="694.5" y="524.6" font-size="5.9" fill="#111" stroke="#111" stroke-width="0.22" text-anchor="middle">302</text>
<text class="s" x="696" y="532" font-size="6.8" fill="#111" stroke="#111" stroke-width="0.22" text-anchor="middle" textLength="23" lengthAdjust="spacingAndGlyphs">2.48τ.μ.</text>
<text class="s" x="695" y="543.8" font-size="5.9" fill="#111" stroke="#111" stroke-width="0.22" text-anchor="middle" textLength="30" lengthAdjust="spacingAndGlyphs">ΑΠΟΘΗΚΗ</text>
<text class="s" x="694.5" y="550.2" font-size="5.9" fill="#111" stroke="#111" stroke-width="0.22" text-anchor="middle">303</text>
<text class="s" x="696" y="557" font-size="6.8" fill="#111" stroke="#111" stroke-width="0.22" text-anchor="middle" textLength="23" lengthAdjust="spacingAndGlyphs">2.48τ.μ.</text>
<text class="r" x="616.6" y="513.6" font-size="5.6" fill="#111" stroke="#111" stroke-width="0.22">Δ.Μ.</text>
<text class="r" x="616.6" y="521" font-size="5.4" fill="#111" stroke="#111" stroke-width="0.22" textLength="25" lengthAdjust="spacingAndGlyphs">7540018-5</text>
<text class="r" x="591.6" y="535.6" font-size="5.6" fill="#111" stroke="#111" stroke-width="0.22" textLength="22.6" lengthAdjust="spacingAndGlyphs">ΗΛΕΚΤΡ.</text>
<text class="r" x="615" y="542.6" font-size="5.6" fill="#111" stroke="#111" stroke-width="0.22" textLength="29" lengthAdjust="spacingAndGlyphs">ΚΟΙΝ. ΧΩΡ.</text>
<text class="r" x="653" y="540.4" font-size="5.6" fill="#111" stroke="#111" stroke-width="0.22" textLength="11.5" lengthAdjust="spacingAndGlyphs">ΑΗΚ</text>
<text class="r" x="735" y="558.4" font-size="6" fill="#111" stroke="#111" stroke-width="0.22" textLength="34" lengthAdjust="spacingAndGlyphs">ΤΕΡΜΑΤΙΚΟ</text>
<text class="r" x="735" y="566.4" font-size="6" fill="#111" stroke="#111" stroke-width="0.22" textLength="25.5" lengthAdjust="spacingAndGlyphs">ΦΡΕΑΤΙΟ</text>
<text class="r" x="735" y="573.6" font-size="5.6" fill="#111" stroke="#111" stroke-width="0.22" textLength="48" lengthAdjust="spacingAndGlyphs">ΣΧΕΔΙΟ 7540007-4</text>
<text class="r" x="681.4" y="590.6" font-size="5.8" fill="#111" stroke="#111" stroke-width="0.22" textLength="56" lengthAdjust="spacingAndGlyphs">2 Φ110,  ΒΑΘΟΣ 75εκ.</text>
<text class="r" x="681.4" y="598.2" font-size="5.8" fill="#111" stroke="#111" stroke-width="0.22" textLength="52" lengthAdjust="spacingAndGlyphs">ΤΣΙΜΕΝΤΟ, ΤΑΙΝΙΑ</text>
<text class="r" x="681.4" y="605.6" font-size="5.8" fill="#111" stroke="#111" stroke-width="0.22" textLength="71.5" lengthAdjust="spacingAndGlyphs">ΤΥΠΙΚΟ ΣΧΕΔΙΟ 7540010-2</text>
<rect x="487.6" y="616" width="132.9" height="3" fill="#666"/>
<rect x="487.6" y="616" width="132.9" height="37.4" fill="none" stroke="#444" stroke-width="0.96"/>
<rect x="491" y="619" width="126.5" height="31.6" fill="none" stroke="#444" stroke-width="0.72"/>
<line x1="451" y1="657.3" x2="660" y2="657.3" stroke="#111" stroke-width="0.72"/>
<line x1="451" y1="653.6" x2="660" y2="653.6" stroke="#111" stroke-width="0.72"/>
<g fill="none" stroke="#111" stroke-width="0.74">
<ellipse transform="rotate(-102 320 598.8)" cx="324.89" cy="598.8" rx="4.51" ry="1.6"/>
<line transform="rotate(-102 320 598.8)" x1="320" y1="598.8" x2="327.52" y2="598.8"/>
<ellipse transform="rotate(-49 320 598.8)" cx="324.4" cy="598.8" rx="4.06" ry="1.44"/>
<line transform="rotate(-49 320 598.8)" x1="320" y1="598.8" x2="326.77" y2="598.8"/>
<ellipse transform="rotate(-12 320 598.8)" cx="324.89" cy="598.8" rx="4.51" ry="1.6"/>
<line transform="rotate(-12 320 598.8)" x1="320" y1="598.8" x2="327.52" y2="598.8"/>
<ellipse transform="rotate(41 320 598.8)" cx="324.4" cy="598.8" rx="4.06" ry="1.44"/>
<line transform="rotate(41 320 598.8)" x1="320" y1="598.8" x2="326.77" y2="598.8"/>
<ellipse transform="rotate(78 320 598.8)" cx="324.89" cy="598.8" rx="4.51" ry="1.6"/>
<line transform="rotate(78 320 598.8)" x1="320" y1="598.8" x2="327.52" y2="598.8"/>
<ellipse transform="rotate(131 320 598.8)" cx="324.4" cy="598.8" rx="4.06" ry="1.44"/>
<line transform="rotate(131 320 598.8)" x1="320" y1="598.8" x2="326.77" y2="598.8"/>
<ellipse transform="rotate(168 320 598.8)" cx="324.89" cy="598.8" rx="4.51" ry="1.6"/>
<line transform="rotate(168 320 598.8)" x1="320" y1="598.8" x2="327.52" y2="598.8"/>
<ellipse transform="rotate(221 320 598.8)" cx="324.4" cy="598.8" rx="4.06" ry="1.44"/>
<line transform="rotate(221 320 598.8)" x1="320" y1="598.8" x2="326.77" y2="598.8"/>
</g>
<g fill="none" stroke="#111" stroke-width="0.74">
<ellipse transform="rotate(-102 363 590.8)" cx="367.89" cy="590.8" rx="4.51" ry="1.6"/>
<line transform="rotate(-102 363 590.8)" x1="363" y1="590.8" x2="370.52" y2="590.8"/>
<ellipse transform="rotate(-49 363 590.8)" cx="367.4" cy="590.8" rx="4.06" ry="1.44"/>
<line transform="rotate(-49 363 590.8)" x1="363" y1="590.8" x2="369.77" y2="590.8"/>
<ellipse transform="rotate(-12 363 590.8)" cx="367.89" cy="590.8" rx="4.51" ry="1.6"/>
<line transform="rotate(-12 363 590.8)" x1="363" y1="590.8" x2="370.52" y2="590.8"/>
<ellipse transform="rotate(41 363 590.8)" cx="367.4" cy="590.8" rx="4.06" ry="1.44"/>
<line transform="rotate(41 363 590.8)" x1="363" y1="590.8" x2="369.77" y2="590.8"/>
<ellipse transform="rotate(78 363 590.8)" cx="367.89" cy="590.8" rx="4.51" ry="1.6"/>
<line transform="rotate(78 363 590.8)" x1="363" y1="590.8" x2="370.52" y2="590.8"/>
<ellipse transform="rotate(131 363 590.8)" cx="367.4" cy="590.8" rx="4.06" ry="1.44"/>
<line transform="rotate(131 363 590.8)" x1="363" y1="590.8" x2="369.77" y2="590.8"/>
<ellipse transform="rotate(168 363 590.8)" cx="367.89" cy="590.8" rx="4.51" ry="1.6"/>
<line transform="rotate(168 363 590.8)" x1="363" y1="590.8" x2="370.52" y2="590.8"/>
<ellipse transform="rotate(221 363 590.8)" cx="367.4" cy="590.8" rx="4.06" ry="1.44"/>
<line transform="rotate(221 363 590.8)" x1="363" y1="590.8" x2="369.77" y2="590.8"/>
</g>
<g fill="none" stroke="#111" stroke-width="0.74">
<ellipse transform="rotate(-102 316.3 636.3)" cx="321.19" cy="636.3" rx="4.51" ry="1.6"/>
<line transform="rotate(-102 316.3 636.3)" x1="316.3" y1="636.3" x2="323.82" y2="636.3"/>
<ellipse transform="rotate(-49 316.3 636.3)" cx="320.7" cy="636.3" rx="4.06" ry="1.44"/>
<line transform="rotate(-49 316.3 636.3)" x1="316.3" y1="636.3" x2="323.07" y2="636.3"/>
<ellipse transform="rotate(-12 316.3 636.3)" cx="321.19" cy="636.3" rx="4.51" ry="1.6"/>
<line transform="rotate(-12 316.3 636.3)" x1="316.3" y1="636.3" x2="323.82" y2="636.3"/>
<ellipse transform="rotate(41 316.3 636.3)" cx="320.7" cy="636.3" rx="4.06" ry="1.44"/>
<line transform="rotate(41 316.3 636.3)" x1="316.3" y1="636.3" x2="323.07" y2="636.3"/>
<ellipse transform="rotate(78 316.3 636.3)" cx="321.19" cy="636.3" rx="4.51" ry="1.6"/>
<line transform="rotate(78 316.3 636.3)" x1="316.3" y1="636.3" x2="323.82" y2="636.3"/>
<ellipse transform="rotate(131 316.3 636.3)" cx="320.7" cy="636.3" rx="4.06" ry="1.44"/>
<line transform="rotate(131 316.3 636.3)" x1="316.3" y1="636.3" x2="323.07" y2="636.3"/>
<ellipse transform="rotate(168 316.3 636.3)" cx="321.19" cy="636.3" rx="4.51" ry="1.6"/>
<line transform="rotate(168 316.3 636.3)" x1="316.3" y1="636.3" x2="323.82" y2="636.3"/>
<ellipse transform="rotate(221 316.3 636.3)" cx="320.7" cy="636.3" rx="4.06" ry="1.44"/>
<line transform="rotate(221 316.3 636.3)" x1="316.3" y1="636.3" x2="323.07" y2="636.3"/>
</g>
<g fill="none" stroke="#111" stroke-width="0.74">
<ellipse transform="rotate(-102 361.3 633.8)" cx="366.19" cy="633.8" rx="4.51" ry="1.6"/>
<line transform="rotate(-102 361.3 633.8)" x1="361.3" y1="633.8" x2="368.82" y2="633.8"/>
<ellipse transform="rotate(-49 361.3 633.8)" cx="365.7" cy="633.8" rx="4.06" ry="1.44"/>
<line transform="rotate(-49 361.3 633.8)" x1="361.3" y1="633.8" x2="368.07" y2="633.8"/>
<ellipse transform="rotate(-12 361.3 633.8)" cx="366.19" cy="633.8" rx="4.51" ry="1.6"/>
<line transform="rotate(-12 361.3 633.8)" x1="361.3" y1="633.8" x2="368.82" y2="633.8"/>
<ellipse transform="rotate(41 361.3 633.8)" cx="365.7" cy="633.8" rx="4.06" ry="1.44"/>
<line transform="rotate(41 361.3 633.8)" x1="361.3" y1="633.8" x2="368.07" y2="633.8"/>
<ellipse transform="rotate(78 361.3 633.8)" cx="366.19" cy="633.8" rx="4.51" ry="1.6"/>
<line transform="rotate(78 361.3 633.8)" x1="361.3" y1="633.8" x2="368.82" y2="633.8"/>
<ellipse transform="rotate(131 361.3 633.8)" cx="365.7" cy="633.8" rx="4.06" ry="1.44"/>
<line transform="rotate(131 361.3 633.8)" x1="361.3" y1="633.8" x2="368.07" y2="633.8"/>
<ellipse transform="rotate(168 361.3 633.8)" cx="366.19" cy="633.8" rx="4.51" ry="1.6"/>
<line transform="rotate(168 361.3 633.8)" x1="361.3" y1="633.8" x2="368.82" y2="633.8"/>
<ellipse transform="rotate(221 361.3 633.8)" cx="365.7" cy="633.8" rx="4.06" ry="1.44"/>
<line transform="rotate(221 361.3 633.8)" x1="361.3" y1="633.8" x2="368.07" y2="633.8"/>
</g>
<g fill="none" stroke="#111" stroke-width="0.74">
<ellipse transform="rotate(-102 425.5 638.5)" cx="430.39" cy="638.5" rx="4.51" ry="1.6"/>
<line transform="rotate(-102 425.5 638.5)" x1="425.5" y1="638.5" x2="433.02" y2="638.5"/>
<ellipse transform="rotate(-49 425.5 638.5)" cx="429.9" cy="638.5" rx="4.06" ry="1.44"/>
<line transform="rotate(-49 425.5 638.5)" x1="425.5" y1="638.5" x2="432.27" y2="638.5"/>
<ellipse transform="rotate(-12 425.5 638.5)" cx="430.39" cy="638.5" rx="4.51" ry="1.6"/>
<line transform="rotate(-12 425.5 638.5)" x1="425.5" y1="638.5" x2="433.02" y2="638.5"/>
<ellipse transform="rotate(41 425.5 638.5)" cx="429.9" cy="638.5" rx="4.06" ry="1.44"/>
<line transform="rotate(41 425.5 638.5)" x1="425.5" y1="638.5" x2="432.27" y2="638.5"/>
<ellipse transform="rotate(78 425.5 638.5)" cx="430.39" cy="638.5" rx="4.51" ry="1.6"/>
<line transform="rotate(78 425.5 638.5)" x1="425.5" y1="638.5" x2="433.02" y2="638.5"/>
<ellipse transform="rotate(131 425.5 638.5)" cx="429.9" cy="638.5" rx="4.06" ry="1.44"/>
<line transform="rotate(131 425.5 638.5)" x1="425.5" y1="638.5" x2="432.27" y2="638.5"/>
<ellipse transform="rotate(168 425.5 638.5)" cx="430.39" cy="638.5" rx="4.51" ry="1.6"/>
<line transform="rotate(168 425.5 638.5)" x1="425.5" y1="638.5" x2="433.02" y2="638.5"/>
<ellipse transform="rotate(221 425.5 638.5)" cx="429.9" cy="638.5" rx="4.06" ry="1.44"/>
<line transform="rotate(221 425.5 638.5)" x1="425.5" y1="638.5" x2="432.27" y2="638.5"/>
</g>
<g fill="none" stroke="#111" stroke-width="0.74">
<ellipse transform="rotate(-102 502.5 633)" cx="507.39" cy="633" rx="4.51" ry="1.6"/>
<line transform="rotate(-102 502.5 633)" x1="502.5" y1="633" x2="510.02" y2="633"/>
<ellipse transform="rotate(-49 502.5 633)" cx="506.9" cy="633" rx="4.06" ry="1.44"/>
<line transform="rotate(-49 502.5 633)" x1="502.5" y1="633" x2="509.27" y2="633"/>
<ellipse transform="rotate(-12 502.5 633)" cx="507.39" cy="633" rx="4.51" ry="1.6"/>
<line transform="rotate(-12 502.5 633)" x1="502.5" y1="633" x2="510.02" y2="633"/>
<ellipse transform="rotate(41 502.5 633)" cx="506.9" cy="633" rx="4.06" ry="1.44"/>
<line transform="rotate(41 502.5 633)" x1="502.5" y1="633" x2="509.27" y2="633"/>
<ellipse transform="rotate(78 502.5 633)" cx="507.39" cy="633" rx="4.51" ry="1.6"/>
<line transform="rotate(78 502.5 633)" x1="502.5" y1="633" x2="510.02" y2="633"/>
<ellipse transform="rotate(131 502.5 633)" cx="506.9" cy="633" rx="4.06" ry="1.44"/>
<line transform="rotate(131 502.5 633)" x1="502.5" y1="633" x2="509.27" y2="633"/>
<ellipse transform="rotate(168 502.5 633)" cx="507.39" cy="633" rx="4.51" ry="1.6"/>
<line transform="rotate(168 502.5 633)" x1="502.5" y1="633" x2="510.02" y2="633"/>
<ellipse transform="rotate(221 502.5 633)" cx="506.9" cy="633" rx="4.06" ry="1.44"/>
<line transform="rotate(221 502.5 633)" x1="502.5" y1="633" x2="509.27" y2="633"/>
</g>
<g fill="none" stroke="#111" stroke-width="0.74">
<ellipse transform="rotate(-102 535.5 633.5)" cx="540.39" cy="633.5" rx="4.51" ry="1.6"/>
<line transform="rotate(-102 535.5 633.5)" x1="535.5" y1="633.5" x2="543.02" y2="633.5"/>
<ellipse transform="rotate(-49 535.5 633.5)" cx="539.9" cy="633.5" rx="4.06" ry="1.44"/>
<line transform="rotate(-49 535.5 633.5)" x1="535.5" y1="633.5" x2="542.27" y2="633.5"/>
<ellipse transform="rotate(-12 535.5 633.5)" cx="540.39" cy="633.5" rx="4.51" ry="1.6"/>
<line transform="rotate(-12 535.5 633.5)" x1="535.5" y1="633.5" x2="543.02" y2="633.5"/>
<ellipse transform="rotate(41 535.5 633.5)" cx="539.9" cy="633.5" rx="4.06" ry="1.44"/>
<line transform="rotate(41 535.5 633.5)" x1="535.5" y1="633.5" x2="542.27" y2="633.5"/>
<ellipse transform="rotate(78 535.5 633.5)" cx="540.39" cy="633.5" rx="4.51" ry="1.6"/>
<line transform="rotate(78 535.5 633.5)" x1="535.5" y1="633.5" x2="543.02" y2="633.5"/>
<ellipse transform="rotate(131 535.5 633.5)" cx="539.9" cy="633.5" rx="4.06" ry="1.44"/>
<line transform="rotate(131 535.5 633.5)" x1="535.5" y1="633.5" x2="542.27" y2="633.5"/>
<ellipse transform="rotate(168 535.5 633.5)" cx="540.39" cy="633.5" rx="4.51" ry="1.6"/>
<line transform="rotate(168 535.5 633.5)" x1="535.5" y1="633.5" x2="543.02" y2="633.5"/>
<ellipse transform="rotate(221 535.5 633.5)" cx="539.9" cy="633.5" rx="4.06" ry="1.44"/>
<line transform="rotate(221 535.5 633.5)" x1="535.5" y1="633.5" x2="542.27" y2="633.5"/>
</g>
<g fill="none" stroke="#111" stroke-width="0.74">
<ellipse transform="rotate(-102 581.5 630)" cx="586.39" cy="630" rx="4.51" ry="1.6"/>
<line transform="rotate(-102 581.5 630)" x1="581.5" y1="630" x2="589.02" y2="630"/>
<ellipse transform="rotate(-49 581.5 630)" cx="585.9" cy="630" rx="4.06" ry="1.44"/>
<line transform="rotate(-49 581.5 630)" x1="581.5" y1="630" x2="588.27" y2="630"/>
<ellipse transform="rotate(-12 581.5 630)" cx="586.39" cy="630" rx="4.51" ry="1.6"/>
<line transform="rotate(-12 581.5 630)" x1="581.5" y1="630" x2="589.02" y2="630"/>
<ellipse transform="rotate(41 581.5 630)" cx="585.9" cy="630" rx="4.06" ry="1.44"/>
<line transform="rotate(41 581.5 630)" x1="581.5" y1="630" x2="588.27" y2="630"/>
<ellipse transform="rotate(78 581.5 630)" cx="586.39" cy="630" rx="4.51" ry="1.6"/>
<line transform="rotate(78 581.5 630)" x1="581.5" y1="630" x2="589.02" y2="630"/>
<ellipse transform="rotate(131 581.5 630)" cx="585.9" cy="630" rx="4.06" ry="1.44"/>
<line transform="rotate(131 581.5 630)" x1="581.5" y1="630" x2="588.27" y2="630"/>
<ellipse transform="rotate(168 581.5 630)" cx="586.39" cy="630" rx="4.51" ry="1.6"/>
<line transform="rotate(168 581.5 630)" x1="581.5" y1="630" x2="589.02" y2="630"/>
<ellipse transform="rotate(221 581.5 630)" cx="585.9" cy="630" rx="4.06" ry="1.44"/>
<line transform="rotate(221 581.5 630)" x1="581.5" y1="630" x2="588.27" y2="630"/>
</g>
<g fill="none" stroke="#111" stroke-width="0.74">
<ellipse transform="rotate(-102 603.5 631)" cx="608.39" cy="631" rx="4.51" ry="1.6"/>
<line transform="rotate(-102 603.5 631)" x1="603.5" y1="631" x2="611.02" y2="631"/>
<ellipse transform="rotate(-49 603.5 631)" cx="607.9" cy="631" rx="4.06" ry="1.44"/>
<line transform="rotate(-49 603.5 631)" x1="603.5" y1="631" x2="610.27" y2="631"/>
<ellipse transform="rotate(-12 603.5 631)" cx="608.39" cy="631" rx="4.51" ry="1.6"/>
<line transform="rotate(-12 603.5 631)" x1="603.5" y1="631" x2="611.02" y2="631"/>
<ellipse transform="rotate(41 603.5 631)" cx="607.9" cy="631" rx="4.06" ry="1.44"/>
<line transform="rotate(41 603.5 631)" x1="603.5" y1="631" x2="610.27" y2="631"/>
<ellipse transform="rotate(78 603.5 631)" cx="608.39" cy="631" rx="4.51" ry="1.6"/>
<line transform="rotate(78 603.5 631)" x1="603.5" y1="631" x2="611.02" y2="631"/>
<ellipse transform="rotate(131 603.5 631)" cx="607.9" cy="631" rx="4.06" ry="1.44"/>
<line transform="rotate(131 603.5 631)" x1="603.5" y1="631" x2="610.27" y2="631"/>
<ellipse transform="rotate(168 603.5 631)" cx="608.39" cy="631" rx="4.51" ry="1.6"/>
<line transform="rotate(168 603.5 631)" x1="603.5" y1="631" x2="611.02" y2="631"/>
<ellipse transform="rotate(221 603.5 631)" cx="607.9" cy="631" rx="4.06" ry="1.44"/>
<line transform="rotate(221 603.5 631)" x1="603.5" y1="631" x2="610.27" y2="631"/>
</g>
<line x1="661.3" y1="581.4" x2="661.3" y2="654.5" stroke="#111" stroke-width="1.6" stroke-dasharray="2 1.4"/>
<line x1="706.3" y1="581.4" x2="706.3" y2="654.5" stroke="#111" stroke-width="0.84"/>
<line x1="661.3" y1="654.5" x2="712" y2="654.5" stroke="#111" stroke-width="0.84"/>
<line x1="712" y1="654.5" x2="712" y2="657.3" stroke="#111" stroke-width="0.84"/>
<text class="r" x="570.5" y="33.2" font-size="7.8" fill="#111" stroke="#111" stroke-width="0.22" textLength="57" lengthAdjust="spacingAndGlyphs" font-weight="bold">ΓΡΑΜΜΗ ΣΥΝΟΡΟΥ</text>
<path d="M556.8,47.6 L556.8,30.4 L569,30.4" fill="none" stroke="#111" stroke-width="0.84"/>
<path d="M555.6,43.6 L556.8,47.8 L558,43.6 Z" fill="#111" stroke="#111" stroke-width="0.48"/>
<text class="r" x="468.6" y="105.4" font-size="7.8" fill="#111" stroke="#111" stroke-width="0.22" textLength="71" lengthAdjust="spacingAndGlyphs" font-weight="bold">ΓΡΑΜΜΗ 3.00 ΜΕΤΡΩΝ</text>
<path d="M455,123.6 L455,102 L467,102" fill="none" stroke="#111" stroke-width="0.84"/>
<path d="M453.8,119.6 L455,123.8 L456.2,119.6 Z" fill="#111" stroke="#111" stroke-width="0.48"/>
<text class="r" x="201.3" y="622" font-size="7.8" fill="#111" stroke="#111" stroke-width="0.22" textLength="58" lengthAdjust="spacingAndGlyphs" font-weight="bold">ΕΙΣΟΔΟΣ/ ΕΞΟΔΟΣ</text>
<text class="r" x="201.3" y="630.2" font-size="7.8" fill="#111" stroke="#111" stroke-width="0.22" textLength="42" lengthAdjust="spacingAndGlyphs" font-weight="bold">ΑΥΤΟΚΙΝΗΤΩΝ</text>
<text class="r" x="727" y="628.2" font-size="7.8" fill="#111" stroke="#111" stroke-width="0.22" textLength="58" lengthAdjust="spacingAndGlyphs" font-weight="bold">ΕΙΣΟΔΟΣ/ ΕΞΟΔΟΣ</text>
<text class="r" x="727" y="636" font-size="7.8" fill="#111" stroke="#111" stroke-width="0.22" textLength="42" lengthAdjust="spacingAndGlyphs" font-weight="bold">ΑΥΤΟΚΙΝΗΤΩΝ</text>
<text class="r" x="661.4" y="635.4" font-size="7.8" fill="#111" stroke="#111" stroke-width="0.22" textLength="17.5" lengthAdjust="spacingAndGlyphs" font-weight="bold">ΘΕΣΗ</text>
<text class="r" x="661.4" y="643.4" font-size="7.8" fill="#111" stroke="#111" stroke-width="0.22" textLength="55" lengthAdjust="spacingAndGlyphs" font-weight="bold">ΣΚΥΒΑΛΟΔΟΧΕΙΩΝ</text>
<text class="r" x="262.5" y="688" font-size="10.2" fill="#111" stroke="#111" stroke-width="0.22" textLength="91" lengthAdjust="spacingAndGlyphs">ΚΑΤΟΨΗ ΥΠΟΣΤΕΓΟΥ</text>
<text class="s" x="441.5" y="697.6" font-size="11.6" fill="#111" stroke="#111" stroke-width="0.22" text-anchor="middle">Δ</text>
<text class="s" x="463" y="697.6" font-size="11.6" fill="#111" stroke="#111" stroke-width="0.22" text-anchor="middle">Ρ</text>
<text class="s" x="485" y="697.6" font-size="11.6" fill="#111" stroke="#111" stroke-width="0.22" text-anchor="middle">Ο</text>
<text class="s" x="508.8" y="697.6" font-size="11.6" fill="#111" stroke="#111" stroke-width="0.22" text-anchor="middle">Μ</text>
<text class="s" x="532.3" y="697.6" font-size="11.6" fill="#111" stroke="#111" stroke-width="0.22" text-anchor="middle">Ο</text>
<text class="s" x="553.8" y="697.6" font-size="11.6" fill="#111" stroke="#111" stroke-width="0.22" text-anchor="middle">Σ</text>
<text class="r" x="454.6" y="141.2" font-size="12.4" fill="#111" stroke="#111" stroke-width="0.22">B</text>
<path d="M464.2,136.6 L469.6,131 L469.6,142.2 Z" fill="#000" stroke="#111" stroke-width="0.36"/>
<text class="r" x="453.6" y="684.4" font-size="12.4" fill="#111" stroke="#111" stroke-width="0.22">B</text>
<path d="M463.6,679.6 L469,674 L469,685.2 Z" fill="#000" stroke="#111" stroke-width="0.36"/>
<text class="r" x="243.4" y="413.4" font-size="12" fill="#111" stroke="#111" stroke-width="0.22">A</text>
<path d="M241.2,420.4 L248,414.8 L254.8,420.4 Z" fill="#000" stroke="#111" stroke-width="0.36"/>
<line x1="241" y1="423.3" x2="255" y2="423.3" stroke="#111" stroke-width="0.96"/>
<text class="r" x="729.6" y="415.6" font-size="12" fill="#111" stroke="#111" stroke-width="0.22">A</text>
<path d="M727.4,420.4 L734,414.8 L740.6,420.4 Z" fill="#000" stroke="#111" stroke-width="0.36"/>
<line x1="727" y1="423.3" x2="741" y2="423.3" stroke="#111" stroke-width="0.96"/>
<circle cx="616.25" cy="454.25" r="1.12" fill="none" stroke="#111" stroke-width="0.84"/>
<path d="M616.25,455.5 L616.5,460 L620,460 L621.75,463.75 M616.38,457.5 L619.5,457.5" fill="none" stroke="#111" stroke-width="0.84"/>
<path d="M615.25,458 A3.62,3.62 0 1 0 620,462.25" fill="none" stroke="#111" stroke-width="0.84"/>
<polyline points="247.8,582.6 260.5,126.2 455,123.4 723.8,120 723.8,618.6 661,613 451,603 261.8,593.4 261.8,487" fill="none" stroke="#111" stroke-width="0.84" stroke-dasharray="2.8 1.45"/>
<line x1="721.3" y1="155" x2="721.3" y2="581" stroke="#111" stroke-width="0.72" stroke-dasharray="2.8 1.45"/>
<line x1="247.8" y1="582.6" x2="661" y2="583" stroke="#111" stroke-width="0.84" stroke-dasharray="2.8 1.45"/>
<line x1="257" y1="183.8" x2="257" y2="480" stroke="#111" stroke-width="0.72" stroke-dasharray="2.8 1.45"/>
<line x1="253.8" y1="335" x2="253.8" y2="480" stroke="#111" stroke-width="0.72" stroke-dasharray="2.8 1.45"/>
<line x1="597" y1="331" x2="712" y2="331" stroke="#111" stroke-width="0.72" stroke-dasharray="2.8 1.45"/>
<path d="M396.22,66.27 A153.3,153.3 0 0 0 188.43,173.52" fill="none" stroke="#111" stroke-width="1.02" stroke-dasharray="2.8 1.45"/>
<line x1="188.4" y1="174" x2="186.6" y2="357" stroke="#111" stroke-width="1.02" stroke-dasharray="2.8 1.45"/>
<path d="M275.6,244.97 A146.64,146.64 0 0 1 440.12,57.29" fill="none" stroke="#111" stroke-width="1.02" stroke-dasharray="2.8 1.45"/>
<path d="M527.16,260.5 A143,143 0 1 1 670.9,330.61" fill="none" stroke="#111" stroke-width="1.02" stroke-dasharray="2.8 1.45"/>
<path d="M709.8,174.38 A174.5,174.5 0 0 1 664.45,497.03" fill="none" stroke="#111" stroke-width="1.02" stroke-dasharray="2.8 1.45"/>
<path d="M707.7,341.81 A145.8,145.8 0 0 1 785.41,524.87" fill="none" stroke="#111" stroke-width="1.02" stroke-dasharray="2.8 1.45"/>
<path d="M186.52,357.43 A152.8,152.8 0 0 0 431.07,451.31" fill="none" stroke="#111" stroke-width="1.02" stroke-dasharray="2.8 1.45"/>
<path d="M181.27,499.96 A150.33,150.33 0 0 1 415.15,353.74" fill="none" stroke="#111" stroke-width="1.02" stroke-dasharray="2.8 1.45"/>
<path d="M175.19,654.97 A148.31,148.31 0 0 1 382.52,498.71" fill="none" stroke="#111" stroke-width="1.02" stroke-dasharray="2.8 1.45"/>
<path d="M242.57,659.99 A84,84 0 0 1 384.12,585.62" fill="none" stroke="#111" stroke-width="1.02" stroke-dasharray="2.8 1.45"/>
<path d="M246.9,500.13 A84.02,84.02 0 0 1 383.68,419.05" fill="none" stroke="#111" stroke-width="1.02" stroke-dasharray="2.8 1.45"/>
<path d="M282.79,262.07 A40,74.5 0 1 1 334.21,262.07" fill="none" stroke="#111" stroke-width="1.02" stroke-dasharray="2.8 1.45"/>
<path d="M355.9,267.24 A39,81 0 1 1 409.1,267.24" fill="none" stroke="#111" stroke-width="1.02" stroke-dasharray="2.8 1.45"/>
<path d="M267.92,203.04 A70.09,70.09 0 0 1 394.18,158.1" fill="none" stroke="#111" stroke-width="1.02" stroke-dasharray="2.8 1.45"/>
<path d="M249,125.6 Q300,125.4 346,133" fill="none" stroke="#111" stroke-width="1.02" stroke-dasharray="2.8 1.45"/>
<path d="M259,185 A696.2,696.2 0 0 0 257,360" fill="none" stroke="#111" stroke-width="1.02" stroke-dasharray="2.8 1.45"/>
<ellipse cx="650.5" cy="208.5" rx="74.5" ry="47.5" fill="none" stroke="#1a1a1a" stroke-width="1" stroke-dasharray="2.8 1.45"/>
<path d="M573.15,275.25 A76,47.5 0 1 1 696.85,319.89" fill="none" stroke="#111" stroke-width="1.02" stroke-dasharray="2.8 1.45"/>
<path d="M720.36,353.75 A77,47.5 0 1 1 571.29,374.14" fill="none" stroke="#111" stroke-width="1.02" stroke-dasharray="2.8 1.45"/>
<path d="M576.59,438.21 A76,47.5 0 1 1 688,491.64" fill="none" stroke="#111" stroke-width="1.02" stroke-dasharray="2.8 1.45"/>
<path d="M583.3,150.66 A93.26,93.26 0 0 1 736.89,195.8" fill="none" stroke="#111" stroke-width="1.02" stroke-dasharray="2.8 1.45"/>
<path d="M416,150 A182.28,182.28 0 0 1 419,245" fill="none" stroke="#111" stroke-width="1.02" stroke-dasharray="2.8 1.45"/>
<path d="M513.04,140.02 A165.13,165.13 0 0 0 512.88,250.04" fill="none" stroke="#111" stroke-width="1.02" stroke-dasharray="2.8 1.45"/>
<circle cx="150.7" cy="74.3" r="3.65" fill="none" stroke="#111" stroke-width="0.9"/>
<line x1="150.7" y1="66.7" x2="150.7" y2="81.9" stroke="#111" stroke-width="0.84"/>
<line x1="142.7" y1="74.3" x2="180.2" y2="74.3" stroke="#111" stroke-width="0.84"/>
<text class="s" x="155.1" y="73.3" font-size="9.3" fill="#111" stroke="#111" stroke-width="0.22" textLength="24.6" lengthAdjust="spacingAndGlyphs">125.30</text>
<circle cx="207.3" cy="77.2" r="3.65" fill="#fff" stroke="#111" stroke-width="0.9"/>
<path d="M207.3,77.2 L203.65,77.2 A3.65,3.65 0 0 1 207.3,73.55 Z M207.3,77.2 L210.95,77.2 A3.65,3.65 0 0 1 207.3,80.85 Z" fill="#000" stroke="none" stroke-width="0"/>
<line x1="207.3" y1="69.6" x2="207.3" y2="84.8" stroke="#111" stroke-width="0.84"/>
<line x1="199.3" y1="77.2" x2="236.8" y2="77.2" stroke="#111" stroke-width="0.84"/>
<text class="s" x="211.7" y="76.2" font-size="9.3" fill="#111" stroke="#111" stroke-width="0.22" textLength="24.6" lengthAdjust="spacingAndGlyphs">126.45</text>
<circle cx="141" cy="146" r="3.65" fill="none" stroke="#111" stroke-width="0.9"/>
<line x1="141" y1="138.4" x2="141" y2="153.6" stroke="#111" stroke-width="0.84"/>
<line x1="133" y1="146" x2="170.5" y2="146" stroke="#111" stroke-width="0.84"/>
<text class="s" x="145.4" y="145" font-size="9.3" fill="#111" stroke="#111" stroke-width="0.22" textLength="24.6" lengthAdjust="spacingAndGlyphs">126.19</text>
<circle cx="245.2" cy="135.5" r="3.65" fill="none" stroke="#111" stroke-width="0.9"/>
<line x1="245.2" y1="127.9" x2="245.2" y2="143.1" stroke="#111" stroke-width="0.84"/>
<line x1="237.2" y1="135.5" x2="274.7" y2="135.5" stroke="#111" stroke-width="0.84"/>
<text class="s" x="249.6" y="134.5" font-size="9.3" fill="#111" stroke="#111" stroke-width="0.22" textLength="24.6" lengthAdjust="spacingAndGlyphs">125.85</text>
<circle cx="254" cy="167.3" r="3.65" fill="#fff" stroke="#111" stroke-width="0.9"/>
<path d="M254,167.3 L250.35,167.3 A3.65,3.65 0 0 1 254,163.65 Z M254,167.3 L257.65,167.3 A3.65,3.65 0 0 1 254,170.95 Z" fill="#000" stroke="none" stroke-width="0"/>
<line x1="254" y1="159.7" x2="254" y2="174.9" stroke="#111" stroke-width="0.84"/>
<line x1="246" y1="167.3" x2="283.5" y2="167.3" stroke="#111" stroke-width="0.84"/>
<text class="s" x="258.4" y="166.3" font-size="9.3" fill="#111" stroke="#111" stroke-width="0.22" textLength="24.6" lengthAdjust="spacingAndGlyphs">126.43</text>
<circle cx="301.3" cy="200" r="3.65" fill="#fff" stroke="#111" stroke-width="0.9"/>
<path d="M301.3,200 L297.65,200 A3.65,3.65 0 0 1 301.3,196.35 Z M301.3,200 L304.95,200 A3.65,3.65 0 0 1 301.3,203.65 Z" fill="#000" stroke="none" stroke-width="0"/>
<line x1="301.3" y1="192.4" x2="301.3" y2="207.6" stroke="#111" stroke-width="0.84"/>
<line x1="293.3" y1="200" x2="330.8" y2="200" stroke="#111" stroke-width="0.84"/>
<text class="s" x="305.7" y="199" font-size="9.3" fill="#111" stroke="#111" stroke-width="0.22" textLength="24.6" lengthAdjust="spacingAndGlyphs">126.45</text>
<circle cx="394.5" cy="42.5" r="3.65" fill="none" stroke="#111" stroke-width="0.9"/>
<line x1="394.5" y1="34.9" x2="394.5" y2="50.1" stroke="#111" stroke-width="0.84"/>
<line x1="386.5" y1="42.5" x2="424" y2="42.5" stroke="#111" stroke-width="0.84"/>
<text class="s" x="398.9" y="41.5" font-size="9.3" fill="#111" stroke="#111" stroke-width="0.22" textLength="24.6" lengthAdjust="spacingAndGlyphs">126.02</text>
<circle cx="472" cy="66.2" r="3.65" fill="#fff" stroke="#111" stroke-width="0.9"/>
<path d="M472,66.2 L468.35,66.2 A3.65,3.65 0 0 1 472,62.55 Z M472,66.2 L475.65,66.2 A3.65,3.65 0 0 1 472,69.85 Z" fill="#000" stroke="none" stroke-width="0"/>
<line x1="472" y1="58.6" x2="472" y2="73.8" stroke="#111" stroke-width="0.84"/>
<line x1="464" y1="66.2" x2="501.5" y2="66.2" stroke="#111" stroke-width="0.84"/>
<text class="s" x="476.4" y="65.2" font-size="9.3" fill="#111" stroke="#111" stroke-width="0.22" textLength="24.6" lengthAdjust="spacingAndGlyphs">126.50</text>
<circle cx="485.6" cy="131" r="3.65" fill="none" stroke="#111" stroke-width="0.9"/>
<line x1="485.6" y1="123.4" x2="485.6" y2="138.6" stroke="#111" stroke-width="0.84"/>
<line x1="477.6" y1="131" x2="515.1" y2="131" stroke="#111" stroke-width="0.84"/>
<text class="s" x="490" y="130" font-size="9.3" fill="#111" stroke="#111" stroke-width="0.22" textLength="24.6" lengthAdjust="spacingAndGlyphs">125.96</text>
<circle cx="531.6" cy="164.6" r="3.65" fill="#fff" stroke="#111" stroke-width="0.9"/>
<path d="M531.6,164.6 L527.95,164.6 A3.65,3.65 0 0 1 531.6,160.95 Z M531.6,164.6 L535.25,164.6 A3.65,3.65 0 0 1 531.6,168.25 Z" fill="#000" stroke="none" stroke-width="0"/>
<line x1="531.6" y1="157" x2="531.6" y2="172.2" stroke="#111" stroke-width="0.84"/>
<line x1="523.6" y1="164.6" x2="561.1" y2="164.6" stroke="#111" stroke-width="0.84"/>
<text class="s" x="536" y="163.6" font-size="9.3" fill="#111" stroke="#111" stroke-width="0.22" textLength="24.6" lengthAdjust="spacingAndGlyphs">126.45</text>
<circle cx="750.3" cy="34" r="3.65" fill="none" stroke="#111" stroke-width="0.9"/>
<line x1="750.3" y1="26.4" x2="750.3" y2="41.6" stroke="#111" stroke-width="0.84"/>
<line x1="742.3" y1="34" x2="779.8" y2="34" stroke="#111" stroke-width="0.84"/>
<text class="s" x="754.7" y="33" font-size="9.3" fill="#111" stroke="#111" stroke-width="0.22" textLength="24.6" lengthAdjust="spacingAndGlyphs">125.87</text>
<circle cx="751.6" cy="65.8" r="3.65" fill="#fff" stroke="#111" stroke-width="0.9"/>
<path d="M751.6,65.8 L747.95,65.8 A3.65,3.65 0 0 1 751.6,62.15 Z M751.6,65.8 L755.25,65.8 A3.65,3.65 0 0 1 751.6,69.45 Z" fill="#000" stroke="none" stroke-width="0"/>
<line x1="751.6" y1="58.2" x2="751.6" y2="73.4" stroke="#111" stroke-width="0.84"/>
<line x1="743.6" y1="65.8" x2="781.1" y2="65.8" stroke="#111" stroke-width="0.84"/>
<text class="s" x="756" y="64.8" font-size="9.3" fill="#111" stroke="#111" stroke-width="0.22" textLength="24.6" lengthAdjust="spacingAndGlyphs">126.45</text>
<circle cx="809.6" cy="63.6" r="3.65" fill="none" stroke="#111" stroke-width="0.9"/>
<line x1="809.6" y1="56" x2="809.6" y2="71.2" stroke="#111" stroke-width="0.84"/>
<line x1="801.6" y1="63.6" x2="839.1" y2="63.6" stroke="#111" stroke-width="0.84"/>
<text class="s" x="814" y="62.6" font-size="9.3" fill="#111" stroke="#111" stroke-width="0.22" textLength="24.6" lengthAdjust="spacingAndGlyphs">126.83</text>
<circle cx="703" cy="133.6" r="3.65" fill="#fff" stroke="#111" stroke-width="0.9"/>
<path d="M703,133.6 L699.35,133.6 A3.65,3.65 0 0 1 703,129.95 Z M703,133.6 L706.65,133.6 A3.65,3.65 0 0 1 703,137.25 Z" fill="#000" stroke="none" stroke-width="0"/>
<line x1="703" y1="126" x2="703" y2="141.2" stroke="#111" stroke-width="0.84"/>
<line x1="695" y1="133.6" x2="732.5" y2="133.6" stroke="#111" stroke-width="0.84"/>
<text class="s" x="707.4" y="132.6" font-size="9.3" fill="#111" stroke="#111" stroke-width="0.22" textLength="24.6" lengthAdjust="spacingAndGlyphs">126.43</text>
<circle cx="733" cy="145" r="3.65" fill="none" stroke="#111" stroke-width="0.9"/>
<line x1="733" y1="137.4" x2="733" y2="152.6" stroke="#111" stroke-width="0.84"/>
<line x1="725" y1="145" x2="762.5" y2="145" stroke="#111" stroke-width="0.84"/>
<text class="s" x="737.4" y="144" font-size="9.3" fill="#111" stroke="#111" stroke-width="0.22" textLength="24.6" lengthAdjust="spacingAndGlyphs">126.00</text>
<circle cx="681.7" cy="209.5" r="3.65" fill="#fff" stroke="#111" stroke-width="0.9"/>
<path d="M681.7,209.5 L678.05,209.5 A3.65,3.65 0 0 1 681.7,205.85 Z M681.7,209.5 L685.35,209.5 A3.65,3.65 0 0 1 681.7,213.15 Z" fill="#000" stroke="none" stroke-width="0"/>
<line x1="681.7" y1="201.9" x2="681.7" y2="217.1" stroke="#111" stroke-width="0.84"/>
<line x1="673.7" y1="209.5" x2="711.2" y2="209.5" stroke="#111" stroke-width="0.84"/>
<text class="s" x="686.1" y="208.5" font-size="9.3" fill="#111" stroke="#111" stroke-width="0.22" textLength="24.6" lengthAdjust="spacingAndGlyphs">126.45</text>
<circle cx="578.2" cy="232.6" r="3.65" fill="none" stroke="#111" stroke-width="0.9"/>
<line x1="578.2" y1="225" x2="578.2" y2="240.2" stroke="#111" stroke-width="0.84"/>
<line x1="570.2" y1="232.6" x2="607.7" y2="232.6" stroke="#111" stroke-width="0.84"/>
<text class="s" x="582.6" y="231.6" font-size="9.3" fill="#111" stroke="#111" stroke-width="0.22" textLength="24.6" lengthAdjust="spacingAndGlyphs">126.00</text>
<circle cx="706.2" cy="290" r="3.65" fill="none" stroke="#111" stroke-width="0.9"/>
<line x1="706.2" y1="282.4" x2="706.2" y2="297.6" stroke="#111" stroke-width="0.84"/>
<line x1="698.2" y1="290" x2="735.7" y2="290" stroke="#111" stroke-width="0.84"/>
<text class="s" x="710.6" y="289" font-size="9.3" fill="#111" stroke="#111" stroke-width="0.22" textLength="24.6" lengthAdjust="spacingAndGlyphs">125.99</text>
<circle cx="753" cy="353" r="3.65" fill="#fff" stroke="#111" stroke-width="0.9"/>
<path d="M753,353 L749.35,353 A3.65,3.65 0 0 1 753,349.35 Z M753,353 L756.65,353 A3.65,3.65 0 0 1 753,356.65 Z" fill="#000" stroke="none" stroke-width="0"/>
<line x1="753" y1="345.4" x2="753" y2="360.6" stroke="#111" stroke-width="0.84"/>
<line x1="745" y1="353" x2="782.5" y2="353" stroke="#111" stroke-width="0.84"/>
<text class="s" x="757.4" y="352" font-size="9.3" fill="#111" stroke="#111" stroke-width="0.22" textLength="24.6" lengthAdjust="spacingAndGlyphs">126.40</text>
<circle cx="189.3" cy="356.7" r="3.65" fill="#fff" stroke="#111" stroke-width="0.9"/>
<path d="M189.3,356.7 L185.65,356.7 A3.65,3.65 0 0 1 189.3,353.05 Z M189.3,356.7 L192.95,356.7 A3.65,3.65 0 0 1 189.3,360.35 Z" fill="#000" stroke="none" stroke-width="0"/>
<line x1="189.3" y1="349.1" x2="189.3" y2="364.3" stroke="#111" stroke-width="0.84"/>
<line x1="181.3" y1="356.7" x2="218.8" y2="356.7" stroke="#111" stroke-width="0.84"/>
<text class="s" x="193.7" y="355.7" font-size="9.3" fill="#111" stroke="#111" stroke-width="0.22" textLength="24.6" lengthAdjust="spacingAndGlyphs">126.40</text>
<circle cx="141" cy="384.6" r="3.65" fill="none" stroke="#111" stroke-width="0.9"/>
<line x1="141" y1="377" x2="141" y2="392.2" stroke="#111" stroke-width="0.84"/>
<line x1="133" y1="384.6" x2="170.5" y2="384.6" stroke="#111" stroke-width="0.84"/>
<text class="s" x="145.4" y="383.6" font-size="9.3" fill="#111" stroke="#111" stroke-width="0.22" textLength="24.6" lengthAdjust="spacingAndGlyphs">126.26</text>
<circle cx="224.5" cy="383.7" r="3.65" fill="none" stroke="#111" stroke-width="0.9"/>
<line x1="224.5" y1="376.1" x2="224.5" y2="391.3" stroke="#111" stroke-width="0.84"/>
<line x1="216.5" y1="383.7" x2="254" y2="383.7" stroke="#111" stroke-width="0.84"/>
<text class="s" x="228.9" y="382.7" font-size="9.3" fill="#111" stroke="#111" stroke-width="0.22" textLength="24.6" lengthAdjust="spacingAndGlyphs">125.86</text>
<circle cx="267.5" cy="407" r="3.65" fill="#fff" stroke="#111" stroke-width="0.9"/>
<path d="M267.5,407 L263.85,407 A3.65,3.65 0 0 1 267.5,403.35 Z M267.5,407 L271.15,407 A3.65,3.65 0 0 1 267.5,410.65 Z" fill="#000" stroke="none" stroke-width="0"/>
<line x1="267.5" y1="399.4" x2="267.5" y2="414.6" stroke="#111" stroke-width="0.84"/>
<line x1="259.5" y1="407" x2="297" y2="407" stroke="#111" stroke-width="0.84"/>
<text class="s" x="271.9" y="406" font-size="9.3" fill="#111" stroke="#111" stroke-width="0.22" textLength="24.6" lengthAdjust="spacingAndGlyphs">126.45</text>
<circle cx="460" cy="349.5" r="3.65" fill="none" stroke="#111" stroke-width="0.9"/>
<line x1="460" y1="341.9" x2="460" y2="357.1" stroke="#111" stroke-width="0.84"/>
<line x1="452" y1="349.5" x2="489.5" y2="349.5" stroke="#111" stroke-width="0.84"/>
<text class="s" x="464.4" y="348.5" font-size="9.3" fill="#111" stroke="#111" stroke-width="0.22" textLength="24.6" lengthAdjust="spacingAndGlyphs">125.89</text>
<circle cx="457.5" cy="370.5" r="3.65" fill="#fff" stroke="#111" stroke-width="0.9"/>
<path d="M457.5,370.5 L453.85,370.5 A3.65,3.65 0 0 1 457.5,366.85 Z M457.5,370.5 L461.15,370.5 A3.65,3.65 0 0 1 457.5,374.15 Z" fill="#000" stroke="none" stroke-width="0"/>
<line x1="457.5" y1="362.9" x2="457.5" y2="378.1" stroke="#111" stroke-width="0.84"/>
<line x1="449.5" y1="370.5" x2="487" y2="370.5" stroke="#111" stroke-width="0.84"/>
<text class="s" x="461.9" y="369.5" font-size="9.3" fill="#111" stroke="#111" stroke-width="0.22" textLength="24.6" lengthAdjust="spacingAndGlyphs">126.50</text>
<circle cx="458" cy="411.2" r="3.65" fill="#fff" stroke="#111" stroke-width="0.9"/>
<path d="M458,411.2 L454.35,411.2 A3.65,3.65 0 0 1 458,407.55 Z M458,411.2 L461.65,411.2 A3.65,3.65 0 0 1 458,414.85 Z" fill="#000" stroke="none" stroke-width="0"/>
<line x1="458" y1="403.6" x2="458" y2="418.8" stroke="#111" stroke-width="0.84"/>
<line x1="450" y1="411.2" x2="487.5" y2="411.2" stroke="#111" stroke-width="0.84"/>
<text class="s" x="462.4" y="410.2" font-size="9.3" fill="#111" stroke="#111" stroke-width="0.22" textLength="24.6" lengthAdjust="spacingAndGlyphs">126.49</text>
<circle cx="682" cy="409.2" r="3.65" fill="#fff" stroke="#111" stroke-width="0.9"/>
<path d="M682,409.2 L678.35,409.2 A3.65,3.65 0 0 1 682,405.55 Z M682,409.2 L685.65,409.2 A3.65,3.65 0 0 1 682,412.85 Z" fill="#000" stroke="none" stroke-width="0"/>
<line x1="682" y1="401.6" x2="682" y2="416.8" stroke="#111" stroke-width="0.84"/>
<line x1="674" y1="409.2" x2="711.5" y2="409.2" stroke="#111" stroke-width="0.84"/>
<text class="s" x="686.4" y="408.2" font-size="9.3" fill="#111" stroke="#111" stroke-width="0.22" textLength="24.6" lengthAdjust="spacingAndGlyphs">126.45</text>
<circle cx="737.5" cy="446.2" r="3.65" fill="none" stroke="#111" stroke-width="0.9"/>
<line x1="737.5" y1="438.6" x2="737.5" y2="453.8" stroke="#111" stroke-width="0.84"/>
<line x1="729.5" y1="446.2" x2="767" y2="446.2" stroke="#111" stroke-width="0.84"/>
<text class="s" x="741.9" y="445.2" font-size="9.3" fill="#111" stroke="#111" stroke-width="0.22" textLength="24.6" lengthAdjust="spacingAndGlyphs">125.90</text>
<circle cx="136" cy="548" r="3.65" fill="none" stroke="#111" stroke-width="0.9"/>
<line x1="136" y1="540.4" x2="136" y2="555.6" stroke="#111" stroke-width="0.84"/>
<line x1="128" y1="548" x2="165.5" y2="548" stroke="#111" stroke-width="0.84"/>
<text class="s" x="140.4" y="547" font-size="9.3" fill="#111" stroke="#111" stroke-width="0.22" textLength="24.6" lengthAdjust="spacingAndGlyphs">126.08</text>
<circle cx="187" cy="565" r="3.65" fill="#fff" stroke="#111" stroke-width="0.9"/>
<path d="M187,565 L183.35,565 A3.65,3.65 0 0 1 187,561.35 Z M187,565 L190.65,565 A3.65,3.65 0 0 1 187,568.65 Z" fill="#000" stroke="none" stroke-width="0"/>
<line x1="187" y1="557.4" x2="187" y2="572.6" stroke="#111" stroke-width="0.84"/>
<line x1="179" y1="565" x2="216.5" y2="565" stroke="#111" stroke-width="0.84"/>
<text class="s" x="191.4" y="564" font-size="9.3" fill="#111" stroke="#111" stroke-width="0.22" textLength="24.6" lengthAdjust="spacingAndGlyphs">126.35</text>
<circle cx="255.5" cy="561.3" r="3.65" fill="none" stroke="#111" stroke-width="0.9"/>
<line x1="255.5" y1="553.7" x2="255.5" y2="568.9" stroke="#111" stroke-width="0.84"/>
<line x1="247.5" y1="561.3" x2="285" y2="561.3" stroke="#111" stroke-width="0.84"/>
<text class="s" x="259.9" y="560.3" font-size="9.3" fill="#111" stroke="#111" stroke-width="0.22" textLength="24.6" lengthAdjust="spacingAndGlyphs">125.88</text>
<circle cx="309.5" cy="530.5" r="3.65" fill="#fff" stroke="#111" stroke-width="0.9"/>
<path d="M309.5,530.5 L305.85,530.5 A3.65,3.65 0 0 1 309.5,526.85 Z M309.5,530.5 L313.15,530.5 A3.65,3.65 0 0 1 309.5,534.15 Z" fill="#000" stroke="none" stroke-width="0"/>
<line x1="309.5" y1="522.9" x2="309.5" y2="538.1" stroke="#111" stroke-width="0.84"/>
<line x1="301.5" y1="530.5" x2="339" y2="530.5" stroke="#111" stroke-width="0.84"/>
<text class="s" x="313.9" y="529.5" font-size="9.3" fill="#111" stroke="#111" stroke-width="0.22" textLength="24.6" lengthAdjust="spacingAndGlyphs">126.45</text>
<circle cx="188" cy="646.2" r="3.65" fill="#fff" stroke="#111" stroke-width="0.9"/>
<path d="M188,646.2 L184.35,646.2 A3.65,3.65 0 0 1 188,642.55 Z M188,646.2 L191.65,646.2 A3.65,3.65 0 0 1 188,649.85 Z" fill="#000" stroke="none" stroke-width="0"/>
<line x1="188" y1="638.6" x2="188" y2="653.8" stroke="#111" stroke-width="0.84"/>
<line x1="180" y1="646.2" x2="217.5" y2="646.2" stroke="#111" stroke-width="0.84"/>
<text class="s" x="192.4" y="645.2" font-size="9.3" fill="#111" stroke="#111" stroke-width="0.22" textLength="24.6" lengthAdjust="spacingAndGlyphs">126.10</text>
<circle cx="170" cy="669.6" r="3.65" fill="none" stroke="#111" stroke-width="0.9"/>
<line x1="170" y1="662" x2="170" y2="677.2" stroke="#111" stroke-width="0.84"/>
<line x1="162" y1="669.6" x2="199.5" y2="669.6" stroke="#111" stroke-width="0.84"/>
<text class="s" x="174.4" y="668.6" font-size="9.3" fill="#111" stroke="#111" stroke-width="0.22" textLength="24.6" lengthAdjust="spacingAndGlyphs">126.10</text>
<circle cx="371.7" cy="613.3" r="3.65" fill="#fff" stroke="#111" stroke-width="0.9"/>
<path d="M371.7,613.3 L368.05,613.3 A3.65,3.65 0 0 1 371.7,609.65 Z M371.7,613.3 L375.35,613.3 A3.65,3.65 0 0 1 371.7,616.95 Z" fill="#000" stroke="none" stroke-width="0"/>
<line x1="371.7" y1="605.7" x2="371.7" y2="620.9" stroke="#111" stroke-width="0.84"/>
<line x1="363.7" y1="613.3" x2="401.2" y2="613.3" stroke="#111" stroke-width="0.84"/>
<text class="s" x="376.1" y="612.3" font-size="9.3" fill="#111" stroke="#111" stroke-width="0.22" textLength="24.6" lengthAdjust="spacingAndGlyphs">126.20</text>
<circle cx="314.6" cy="669.6" r="3.65" fill="none" stroke="#111" stroke-width="0.9"/>
<line x1="314.6" y1="662" x2="314.6" y2="677.2" stroke="#111" stroke-width="0.84"/>
<line x1="306.6" y1="669.6" x2="344.1" y2="669.6" stroke="#111" stroke-width="0.84"/>
<text class="s" x="319" y="668.6" font-size="9.3" fill="#111" stroke="#111" stroke-width="0.22" textLength="24.6" lengthAdjust="spacingAndGlyphs">126.16</text>
<circle cx="457.6" cy="601" r="3.65" fill="#fff" stroke="#111" stroke-width="0.9"/>
<path d="M457.6,601 L453.95,601 A3.65,3.65 0 0 1 457.6,597.35 Z M457.6,601 L461.25,601 A3.65,3.65 0 0 1 457.6,604.65 Z" fill="#000" stroke="none" stroke-width="0"/>
<line x1="457.6" y1="593.4" x2="457.6" y2="608.6" stroke="#111" stroke-width="0.84"/>
<line x1="449.6" y1="601" x2="487.1" y2="601" stroke="#111" stroke-width="0.84"/>
<text class="s" x="462" y="600" font-size="9.3" fill="#111" stroke="#111" stroke-width="0.22" textLength="24.6" lengthAdjust="spacingAndGlyphs">126.48</text>
<circle cx="457.6" cy="646.6" r="3.65" fill="#fff" stroke="#111" stroke-width="0.9"/>
<path d="M457.6,646.6 L453.95,646.6 A3.65,3.65 0 0 1 457.6,642.95 Z M457.6,646.6 L461.25,646.6 A3.65,3.65 0 0 1 457.6,650.25 Z" fill="#000" stroke="none" stroke-width="0"/>
<line x1="457.6" y1="639" x2="457.6" y2="654.2" stroke="#111" stroke-width="0.84"/>
<line x1="449.6" y1="646.6" x2="487.1" y2="646.6" stroke="#111" stroke-width="0.84"/>
<text class="s" x="462" y="645.6" font-size="9.3" fill="#111" stroke="#111" stroke-width="0.22" textLength="24.6" lengthAdjust="spacingAndGlyphs">126.34</text>
<circle cx="440" cy="669.8" r="3.65" fill="none" stroke="#111" stroke-width="0.9"/>
<line x1="440" y1="662.2" x2="440" y2="677.4" stroke="#111" stroke-width="0.84"/>
<line x1="432" y1="669.8" x2="469.5" y2="669.8" stroke="#111" stroke-width="0.84"/>
<text class="s" x="444.4" y="668.8" font-size="9.3" fill="#111" stroke="#111" stroke-width="0.22" textLength="24.6" lengthAdjust="spacingAndGlyphs">126.20</text>
<circle cx="557.2" cy="596.6" r="3.65" fill="none" stroke="#111" stroke-width="0.9"/>
<line x1="557.2" y1="589" x2="557.2" y2="604.2" stroke="#111" stroke-width="0.84"/>
<line x1="549.2" y1="596.6" x2="586.7" y2="596.6" stroke="#111" stroke-width="0.84"/>
<text class="s" x="561.6" y="595.6" font-size="9.3" fill="#111" stroke="#111" stroke-width="0.22" textLength="24.6" lengthAdjust="spacingAndGlyphs">126.04</text>
<circle cx="623.6" cy="600" r="3.65" fill="#fff" stroke="#111" stroke-width="0.9"/>
<path d="M623.6,600 L619.95,600 A3.65,3.65 0 0 1 623.6,596.35 Z M623.6,600 L627.25,600 A3.65,3.65 0 0 1 623.6,603.65 Z" fill="#000" stroke="none" stroke-width="0"/>
<line x1="623.6" y1="592.4" x2="623.6" y2="607.6" stroke="#111" stroke-width="0.84"/>
<line x1="615.6" y1="600" x2="653.1" y2="600" stroke="#111" stroke-width="0.84"/>
<text class="s" x="628" y="599" font-size="9.3" fill="#111" stroke="#111" stroke-width="0.22" textLength="24.6" lengthAdjust="spacingAndGlyphs">126.22</text>
<circle cx="549.6" cy="644.2" r="3.65" fill="#fff" stroke="#111" stroke-width="0.9"/>
<path d="M549.6,644.2 L545.95,644.2 A3.65,3.65 0 0 1 549.6,640.55 Z M549.6,644.2 L553.25,644.2 A3.65,3.65 0 0 1 549.6,647.85 Z" fill="#000" stroke="none" stroke-width="0"/>
<line x1="549.6" y1="636.6" x2="549.6" y2="651.8" stroke="#111" stroke-width="0.84"/>
<line x1="541.6" y1="644.2" x2="579.1" y2="644.2" stroke="#111" stroke-width="0.84"/>
<text class="s" x="554" y="643.2" font-size="9.3" fill="#111" stroke="#111" stroke-width="0.22" textLength="24.6" lengthAdjust="spacingAndGlyphs">126.25</text>
<circle cx="628.6" cy="648" r="3.65" fill="#fff" stroke="#111" stroke-width="0.9"/>
<path d="M628.6,648 L624.95,648 A3.65,3.65 0 0 1 628.6,644.35 Z M628.6,648 L632.25,648 A3.65,3.65 0 0 1 628.6,651.65 Z" fill="#000" stroke="none" stroke-width="0"/>
<line x1="628.6" y1="640.4" x2="628.6" y2="655.6" stroke="#111" stroke-width="0.84"/>
<line x1="620.6" y1="648" x2="658.1" y2="648" stroke="#111" stroke-width="0.84"/>
<text class="s" x="633" y="647" font-size="9.3" fill="#111" stroke="#111" stroke-width="0.22" textLength="24.6" lengthAdjust="spacingAndGlyphs">126.21</text>
<circle cx="565" cy="670" r="3.65" fill="none" stroke="#111" stroke-width="0.9"/>
<line x1="565" y1="662.4" x2="565" y2="677.6" stroke="#111" stroke-width="0.84"/>
<line x1="557" y1="670" x2="594.5" y2="670" stroke="#111" stroke-width="0.84"/>
<text class="s" x="569.4" y="669" font-size="9.3" fill="#111" stroke="#111" stroke-width="0.22" textLength="24.6" lengthAdjust="spacingAndGlyphs">126.24</text>
<circle cx="637" cy="670" r="3.65" fill="none" stroke="#111" stroke-width="0.9"/>
<line x1="637" y1="662.4" x2="637" y2="677.6" stroke="#111" stroke-width="0.84"/>
<line x1="629" y1="670" x2="666.5" y2="670" stroke="#111" stroke-width="0.84"/>
<text class="s" x="641.4" y="669" font-size="9.3" fill="#111" stroke="#111" stroke-width="0.22" textLength="24.6" lengthAdjust="spacingAndGlyphs">126.20</text>
<circle cx="797.2" cy="670" r="3.65" fill="none" stroke="#111" stroke-width="0.9"/>
<line x1="797.2" y1="662.4" x2="797.2" y2="677.6" stroke="#111" stroke-width="0.84"/>
<line x1="768.1" y1="670" x2="804.7" y2="670" stroke="#111" stroke-width="0.84"/>
<text class="s" x="769.4" y="669" font-size="9.3" fill="#111" stroke="#111" stroke-width="0.22" textLength="24.6" lengthAdjust="spacingAndGlyphs">126.33</text>
<circle cx="751.6" cy="646" r="3.65" fill="#fff" stroke="#111" stroke-width="0.9"/>
<path d="M751.6,646 L747.95,646 A3.65,3.65 0 0 1 751.6,642.35 Z M751.6,646 L755.25,646 A3.65,3.65 0 0 1 751.6,649.65 Z" fill="#000" stroke="none" stroke-width="0"/>
<line x1="751.6" y1="638.4" x2="751.6" y2="653.6" stroke="#111" stroke-width="0.84"/>
<line x1="743.6" y1="646" x2="781.1" y2="646" stroke="#111" stroke-width="0.84"/>
<text class="s" x="756" y="645" font-size="9.3" fill="#111" stroke="#111" stroke-width="0.22" textLength="24.6" lengthAdjust="spacingAndGlyphs">126.33</text>
<circle cx="732" cy="614.6" r="3.65" fill="none" stroke="#111" stroke-width="0.9"/>
<line x1="732" y1="607" x2="732" y2="622.2" stroke="#111" stroke-width="0.84"/>
<line x1="724" y1="614.6" x2="761.5" y2="614.6" stroke="#111" stroke-width="0.84"/>
<text class="s" x="736.4" y="613.6" font-size="9.3" fill="#111" stroke="#111" stroke-width="0.22" textLength="24.6" lengthAdjust="spacingAndGlyphs">126.09</text>
<circle cx="811" cy="585" r="3.65" fill="none" stroke="#111" stroke-width="0.9"/>
<line x1="811" y1="577.4" x2="811" y2="592.6" stroke="#111" stroke-width="0.84"/>
<line x1="803" y1="585" x2="840.5" y2="585" stroke="#111" stroke-width="0.84"/>
<text class="s" x="815.4" y="584" font-size="9.3" fill="#111" stroke="#111" stroke-width="0.22" textLength="24.6" lengthAdjust="spacingAndGlyphs">126.47</text>
<circle cx="176.5" cy="92.4" r="3.65" fill="#fff" stroke="#111" stroke-width="0.9"/>
<path d="M176.5,92.4 L176.5,88.75 A3.65,3.65 0 0 1 180.15,92.4 Z M176.5,92.4 L176.5,96.05 A3.65,3.65 0 0 1 172.85,92.4 Z" fill="#000" stroke="none" stroke-width="0"/>
<line x1="176.5" y1="84.8" x2="176.5" y2="100" stroke="#111" stroke-width="0.84"/>
<line x1="154" y1="92.4" x2="184" y2="92.4" stroke="#111" stroke-width="0.84"/>
<text class="s" x="152" y="91.4" font-size="9.3" fill="#111" stroke="#111" stroke-width="0.22" textLength="21.3" lengthAdjust="spacingAndGlyphs" font-style="italic">127.40</text>
<line x1="176.5" y1="92.4" x2="190" y2="92.4" stroke="#111" stroke-width="0.96"/>
<circle cx="189.6" cy="92.4" r="1.1" fill="#000" stroke="none" stroke-width="0"/>
<line x1="147" y1="101.4" x2="190.5" y2="101.4" stroke="#111" stroke-width="0.96"/>
<circle cx="497" cy="36.6" r="3.65" fill="#fff" stroke="#111" stroke-width="0.9"/>
<path d="M497,36.6 L493.35,36.6 A3.65,3.65 0 0 1 497,32.95 Z M497,36.6 L500.65,36.6 A3.65,3.65 0 0 1 497,40.25 Z" fill="#000" stroke="none" stroke-width="0"/>
<line x1="497" y1="29" x2="497" y2="44.2" stroke="#111" stroke-width="0.84"/>
<line x1="489" y1="36.6" x2="519.8" y2="36.6" stroke="#111" stroke-width="0.84"/>
<text class="s" x="500.6" y="35.6" font-size="9.3" fill="#111" stroke="#111" stroke-width="0.22" textLength="21.3" lengthAdjust="spacingAndGlyphs" font-style="italic">127.40</text>
<line x1="497" y1="36.6" x2="497" y2="50.2" stroke="#111" stroke-width="0.96"/>
<circle cx="497" cy="50.2" r="1.2" fill="#000" stroke="none" stroke-width="0"/>
<circle cx="165.5" cy="419.5" r="3.65" fill="#fff" stroke="#111" stroke-width="0.9"/>
<path d="M165.5,419.5 L165.5,415.85 A3.65,3.65 0 0 1 169.15,419.5 Z M165.5,419.5 L165.5,423.15 A3.65,3.65 0 0 1 161.85,419.5 Z" fill="#000" stroke="none" stroke-width="0"/>
<line x1="165.5" y1="411.9" x2="165.5" y2="427.1" stroke="#111" stroke-width="0.84"/>
<line x1="141" y1="419.5" x2="173" y2="419.5" stroke="#111" stroke-width="0.84"/>
<text class="s" x="141" y="418.5" font-size="9.3" fill="#111" stroke="#111" stroke-width="0.22" textLength="21.3" lengthAdjust="spacingAndGlyphs" font-style="italic">127.10</text>
<line x1="165.5" y1="419.5" x2="180.3" y2="419.5" stroke="#111" stroke-width="0.96"/>
<circle cx="180" cy="419.5" r="1.1" fill="#000" stroke="none" stroke-width="0"/>
<circle cx="810" cy="419.5" r="3.65" fill="#fff" stroke="#111" stroke-width="0.9"/>
<path d="M810,419.5 L806.35,419.5 A3.65,3.65 0 0 1 810,415.85 Z M810,419.5 L813.65,419.5 A3.65,3.65 0 0 1 810,423.15 Z" fill="#000" stroke="none" stroke-width="0"/>
<line x1="810" y1="411.9" x2="810" y2="427.1" stroke="#111" stroke-width="0.84"/>
<line x1="802" y1="419.5" x2="832.8" y2="419.5" stroke="#111" stroke-width="0.84"/>
<text class="s" x="813.6" y="418.5" font-size="9.3" fill="#111" stroke="#111" stroke-width="0.22" textLength="21.3" lengthAdjust="spacingAndGlyphs" font-style="italic">127.40</text>
<line x1="797" y1="419.5" x2="810" y2="419.5" stroke="#111" stroke-width="0.96"/>
<circle cx="797.2" cy="419.5" r="1.1" fill="#000" stroke="none" stroke-width="0"/>
<circle cx="311.8" cy="619.5" r="3.65" fill="#fff" stroke="#111" stroke-width="0.9"/>
<path d="M311.8,619.5 L308.15,619.5 A3.65,3.65 0 0 1 311.8,615.85 Z M311.8,619.5 L315.45,619.5 A3.65,3.65 0 0 1 311.8,623.15 Z" fill="#000" stroke="none" stroke-width="0"/>
<line x1="311.8" y1="611.9" x2="311.8" y2="627.1" stroke="#111" stroke-width="0.84"/>
<line x1="303.8" y1="619.5" x2="334.6" y2="619.5" stroke="#111" stroke-width="0.84"/>
<text class="s" x="315.4" y="618.5" font-size="9.3" fill="#111" stroke="#111" stroke-width="0.22" textLength="21.3" lengthAdjust="spacingAndGlyphs" font-style="italic">126.50</text>
<line x1="299" y1="619.5" x2="311" y2="619.5" stroke="#111" stroke-width="0.96"/>
<circle cx="299" cy="619.5" r="1.1" fill="#000" stroke="none" stroke-width="0"/>
<circle cx="378.6" cy="668.6" r="3.65" fill="#fff" stroke="#111" stroke-width="0.9"/>
<path d="M378.6,668.6 L374.95,668.6 A3.65,3.65 0 0 1 378.6,664.95 Z M378.6,668.6 L382.25,668.6 A3.65,3.65 0 0 1 378.6,672.25 Z" fill="#000" stroke="none" stroke-width="0"/>
<line x1="378.6" y1="661" x2="378.6" y2="676.2" stroke="#111" stroke-width="0.84"/>
<line x1="370.6" y1="668.6" x2="401.4" y2="668.6" stroke="#111" stroke-width="0.84"/>
<text class="s" x="382.2" y="667.6" font-size="9.3" fill="#111" stroke="#111" stroke-width="0.22" textLength="21.3" lengthAdjust="spacingAndGlyphs" font-style="italic">127.10</text>
<line x1="378.6" y1="657.5" x2="378.6" y2="668" stroke="#111" stroke-width="0.96"/>
<circle cx="378.6" cy="658" r="1.2" fill="#000" stroke="none" stroke-width="0"/>
<circle cx="502.2" cy="648.4" r="3.65" fill="#fff" stroke="#111" stroke-width="0.9"/>
<path d="M502.2,648.4 L498.55,648.4 A3.65,3.65 0 0 1 502.2,644.75 Z M502.2,648.4 L505.85,648.4 A3.65,3.65 0 0 1 502.2,652.05 Z" fill="#000" stroke="none" stroke-width="0"/>
<line x1="502.2" y1="640.8" x2="502.2" y2="656" stroke="#111" stroke-width="0.84"/>
<line x1="494.2" y1="648.4" x2="525" y2="648.4" stroke="#111" stroke-width="0.84"/>
<text class="s" x="505.8" y="647.4" font-size="9.3" fill="#111" stroke="#111" stroke-width="0.22" textLength="21.3" lengthAdjust="spacingAndGlyphs" font-style="italic">126.50</text>
<line x1="488" y1="648.4" x2="502" y2="648.4" stroke="#111" stroke-width="0.96"/>
<circle cx="489" cy="648.4" r="1.1" fill="#000" stroke="none" stroke-width="0"/>
<circle cx="604.4" cy="648.4" r="3.65" fill="#fff" stroke="#111" stroke-width="0.9"/>
<path d="M604.4,648.4 L604.4,644.75 A3.65,3.65 0 0 1 608.05,648.4 Z M604.4,648.4 L604.4,652.05 A3.65,3.65 0 0 1 600.75,648.4 Z" fill="#000" stroke="none" stroke-width="0"/>
<line x1="604.4" y1="640.8" x2="604.4" y2="656" stroke="#111" stroke-width="0.84"/>
<line x1="578.6" y1="648.4" x2="611.9" y2="648.4" stroke="#111" stroke-width="0.84"/>
<text class="s" x="579.9" y="647.4" font-size="9.3" fill="#111" stroke="#111" stroke-width="0.22" textLength="21.3" lengthAdjust="spacingAndGlyphs" font-style="italic">126.50</text>
<line x1="604" y1="648.4" x2="619" y2="648.4" stroke="#111" stroke-width="0.96"/>
<circle cx="618" cy="648.4" r="1.1" fill="#000" stroke="none" stroke-width="0"/>
<circle cx="688.6" cy="669" r="3.65" fill="#fff" stroke="#111" stroke-width="0.9"/>
<path d="M688.6,669 L684.95,669 A3.65,3.65 0 0 1 688.6,665.35 Z M688.6,669 L692.25,669 A3.65,3.65 0 0 1 688.6,672.65 Z" fill="#000" stroke="none" stroke-width="0"/>
<line x1="688.6" y1="661.4" x2="688.6" y2="676.6" stroke="#111" stroke-width="0.84"/>
<line x1="680.6" y1="669" x2="711.4" y2="669" stroke="#111" stroke-width="0.84"/>
<text class="s" x="692.2" y="668" font-size="9.3" fill="#111" stroke="#111" stroke-width="0.22" textLength="21.3" lengthAdjust="spacingAndGlyphs" font-style="italic">127.40</text>
<line x1="688.6" y1="656" x2="688.6" y2="669" stroke="#111" stroke-width="0.96"/>
<circle cx="688.6" cy="656.4" r="1.2" fill="#000" stroke="none" stroke-width="0"/>
<circle cx="511" cy="669.6" r="3.65" fill="#fff" stroke="#111" stroke-width="0.9"/>
<path d="M511,669.6 L507.35,669.6 A3.65,3.65 0 0 1 511,665.95 Z M511,669.6 L514.65,669.6 A3.65,3.65 0 0 1 511,673.25 Z" fill="#000" stroke="none" stroke-width="0"/>
<line x1="511" y1="662" x2="511" y2="677.2" stroke="#111" stroke-width="0.84"/>
<line x1="503" y1="669.6" x2="533.8" y2="669.6" stroke="#111" stroke-width="0.84"/>
<text class="s" x="514.6" y="668.6" font-size="9.3" fill="#111" stroke="#111" stroke-width="0.22" textLength="21.3" lengthAdjust="spacingAndGlyphs" font-style="italic">127.10</text>
<line x1="511" y1="655" x2="511" y2="669" stroke="#111" stroke-width="0.96"/>
<circle cx="511" cy="655.6" r="1.2" fill="#000" stroke="none" stroke-width="0"/>
</svg>
</body></html>
